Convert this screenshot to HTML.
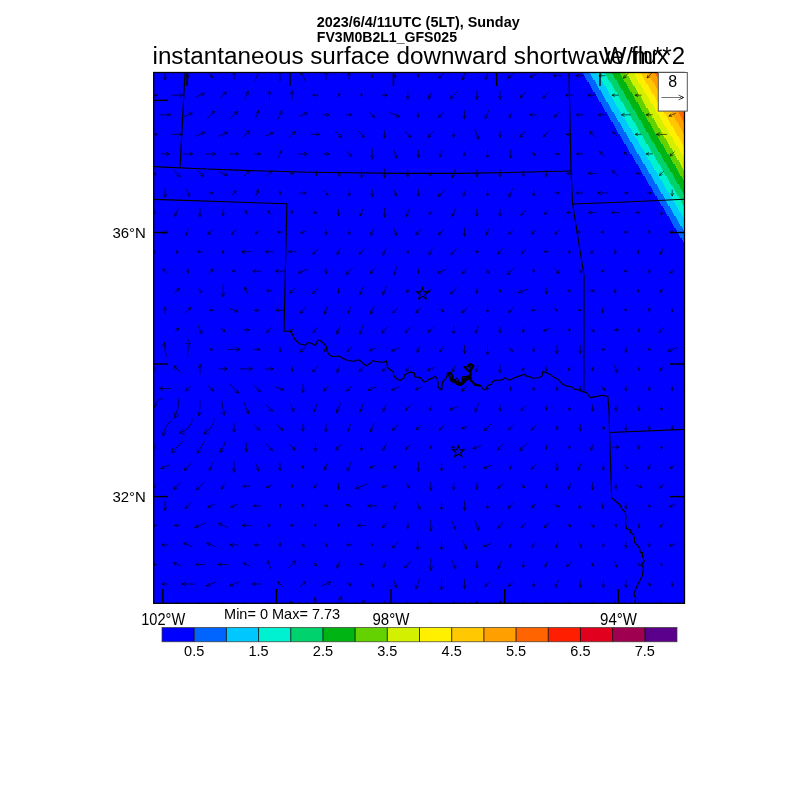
<!DOCTYPE html><html><head><meta charset="utf-8"><style>html,body{margin:0;padding:0;background:#fff;width:800px;height:800px;overflow:hidden}svg{display:block;will-change:transform}text{font-family:"Liberation Sans",sans-serif}</style></head><body>
<svg width="800" height="800" viewBox="0 0 800 800">
<defs><clipPath id="mc"><rect x="153.70" y="72.50" width="530.80" height="530.80"/></clipPath></defs>
<rect x="153.70" y="72.50" width="530.80" height="530.80" fill="#0000ff"/>
<g clip-path="url(#mc)" shape-rendering="crispEdges">
<polygon points="1000,0 539.19,0 582.70,72.00 582.70,74.00 583.89,74.00 583.89,76.00 585.08,76.00 585.08,78.00 586.28,78.00 586.28,80.00 587.47,80.00 587.47,82.00 588.66,82.00 588.66,84.00 589.85,84.00 589.85,86.00 591.04,86.00 591.04,88.00 592.24,88.00 592.24,90.00 593.43,90.00 593.43,92.00 594.62,92.00 594.62,94.00 595.81,94.00 595.81,96.00 597.00,96.00 597.00,98.00 598.20,98.00 598.20,100.00 599.39,100.00 599.39,102.00 600.58,102.00 600.58,104.00 601.77,104.00 601.77,106.00 602.96,106.00 602.96,108.00 604.16,108.00 604.16,110.00 605.35,110.00 605.35,112.00 606.54,112.00 606.54,114.00 607.73,114.00 607.73,116.00 608.92,116.00 608.92,118.00 610.12,118.00 610.12,120.00 611.31,120.00 611.31,122.00 612.50,122.00 612.50,124.00 613.69,124.00 613.69,126.00 614.88,126.00 614.88,128.00 616.08,128.00 616.08,130.00 617.27,130.00 617.27,132.00 618.46,132.00 618.46,134.00 619.65,134.00 619.65,136.00 620.84,136.00 620.84,138.00 622.04,138.00 622.04,140.00 623.23,140.00 623.23,142.00 624.42,142.00 624.42,144.00 625.61,144.00 625.61,146.00 626.80,146.00 626.80,148.00 628.00,148.00 628.00,150.00 629.19,150.00 629.19,152.00 630.38,152.00 630.38,154.00 631.57,154.00 631.57,156.00 632.76,156.00 632.76,158.00 633.96,158.00 633.96,160.00 635.15,160.00 635.15,162.00 636.34,162.00 636.34,164.00 637.53,164.00 637.53,166.00 638.72,166.00 638.72,168.00 639.92,168.00 639.92,170.00 641.11,170.00 641.11,172.00 642.30,172.00 642.30,174.00 643.49,174.00 643.49,176.00 644.68,176.00 644.68,178.00 645.88,178.00 645.88,180.00 647.07,180.00 647.07,182.00 648.26,182.00 648.26,184.00 649.45,184.00 649.45,186.00 650.64,186.00 650.64,188.00 651.84,188.00 651.84,190.00 653.03,190.00 653.03,192.00 654.22,192.00 654.22,194.00 655.41,194.00 655.41,196.00 656.60,196.00 656.60,198.00 657.80,198.00 657.80,200.00 658.99,200.00 658.99,202.00 660.18,202.00 660.18,204.00 661.37,204.00 661.37,206.00 662.56,206.00 662.56,208.00 663.76,208.00 663.76,210.00 664.95,210.00 664.95,212.00 666.14,212.00 666.14,214.00 667.33,214.00 667.33,216.00 668.52,216.00 668.52,218.00 669.72,218.00 669.72,220.00 670.91,220.00 670.91,222.00 672.10,222.00 672.10,224.00 673.29,224.00 673.29,226.00 674.48,226.00 674.48,228.00 675.68,228.00 675.68,230.00 676.87,230.00 676.87,232.00 678.06,232.00 678.06,234.00 679.25,234.00 679.25,236.00 680.44,236.00 680.44,238.00 681.64,238.00 681.64,240.00 682.83,240.00 682.83,242.00 684.02,242.00 684.02,244.00 685.21,244.00 685.21,246.00 686.40,246.00 686.40,248.00 687.60,248.00 687.60,250.00 688.79,250.00 688.79,252.00 689.98,252.00 689.98,254.00 691.17,254.00 691.17,256.00 692.36,256.00 692.36,258.00 693.56,258.00 693.56,260.00 1015.99,800 1000,800" fill="#0064ff"/>
<polygon points="1000,0 546.29,0 589.80,72.00 589.80,74.00 590.99,74.00 590.99,76.00 592.18,76.00 592.18,78.00 593.38,78.00 593.38,80.00 594.57,80.00 594.57,82.00 595.76,82.00 595.76,84.00 596.95,84.00 596.95,86.00 598.14,86.00 598.14,88.00 599.34,88.00 599.34,90.00 600.53,90.00 600.53,92.00 601.72,92.00 601.72,94.00 602.91,94.00 602.91,96.00 604.10,96.00 604.10,98.00 605.30,98.00 605.30,100.00 606.49,100.00 606.49,102.00 607.68,102.00 607.68,104.00 608.87,104.00 608.87,106.00 610.06,106.00 610.06,108.00 611.26,108.00 611.26,110.00 612.45,110.00 612.45,112.00 613.64,112.00 613.64,114.00 614.83,114.00 614.83,116.00 616.02,116.00 616.02,118.00 617.22,118.00 617.22,120.00 618.41,120.00 618.41,122.00 619.60,122.00 619.60,124.00 620.79,124.00 620.79,126.00 621.98,126.00 621.98,128.00 623.18,128.00 623.18,130.00 624.37,130.00 624.37,132.00 625.56,132.00 625.56,134.00 626.75,134.00 626.75,136.00 627.94,136.00 627.94,138.00 629.14,138.00 629.14,140.00 630.33,140.00 630.33,142.00 631.52,142.00 631.52,144.00 632.71,144.00 632.71,146.00 633.90,146.00 633.90,148.00 635.10,148.00 635.10,150.00 636.29,150.00 636.29,152.00 637.48,152.00 637.48,154.00 638.67,154.00 638.67,156.00 639.86,156.00 639.86,158.00 641.06,158.00 641.06,160.00 642.25,160.00 642.25,162.00 643.44,162.00 643.44,164.00 644.63,164.00 644.63,166.00 645.82,166.00 645.82,168.00 647.02,168.00 647.02,170.00 648.21,170.00 648.21,172.00 649.40,172.00 649.40,174.00 650.59,174.00 650.59,176.00 651.78,176.00 651.78,178.00 652.98,178.00 652.98,180.00 654.17,180.00 654.17,182.00 655.36,182.00 655.36,184.00 656.55,184.00 656.55,186.00 657.74,186.00 657.74,188.00 658.94,188.00 658.94,190.00 660.13,190.00 660.13,192.00 661.32,192.00 661.32,194.00 662.51,194.00 662.51,196.00 663.70,196.00 663.70,198.00 664.90,198.00 664.90,200.00 666.09,200.00 666.09,202.00 667.28,202.00 667.28,204.00 668.47,204.00 668.47,206.00 669.66,206.00 669.66,208.00 670.86,208.00 670.86,210.00 672.05,210.00 672.05,212.00 673.24,212.00 673.24,214.00 674.43,214.00 674.43,216.00 675.62,216.00 675.62,218.00 676.82,218.00 676.82,220.00 678.01,220.00 678.01,222.00 679.20,222.00 679.20,224.00 680.39,224.00 680.39,226.00 681.58,226.00 681.58,228.00 682.78,228.00 682.78,230.00 683.97,230.00 683.97,232.00 685.16,232.00 685.16,234.00 686.35,234.00 686.35,236.00 687.54,236.00 687.54,238.00 688.74,238.00 688.74,240.00 689.93,240.00 689.93,242.00 691.12,242.00 691.12,244.00 692.31,244.00 692.31,246.00 693.50,246.00 693.50,248.00 694.70,248.00 694.70,250.00 695.89,250.00 695.89,252.00 697.08,252.00 697.08,254.00 698.27,254.00 698.27,256.00 699.46,256.00 699.46,258.00 700.66,258.00 700.66,260.00 1023.09,800 1000,800" fill="#00c8ff"/>
<polygon points="1000,0 553.69,0 597.20,72.00 597.20,74.00 598.39,74.00 598.39,76.00 599.58,76.00 599.58,78.00 600.78,78.00 600.78,80.00 601.97,80.00 601.97,82.00 603.16,82.00 603.16,84.00 604.35,84.00 604.35,86.00 605.54,86.00 605.54,88.00 606.74,88.00 606.74,90.00 607.93,90.00 607.93,92.00 609.12,92.00 609.12,94.00 610.31,94.00 610.31,96.00 611.50,96.00 611.50,98.00 612.70,98.00 612.70,100.00 613.89,100.00 613.89,102.00 615.08,102.00 615.08,104.00 616.27,104.00 616.27,106.00 617.46,106.00 617.46,108.00 618.66,108.00 618.66,110.00 619.85,110.00 619.85,112.00 621.04,112.00 621.04,114.00 622.23,114.00 622.23,116.00 623.42,116.00 623.42,118.00 624.62,118.00 624.62,120.00 625.81,120.00 625.81,122.00 627.00,122.00 627.00,124.00 628.19,124.00 628.19,126.00 629.38,126.00 629.38,128.00 630.58,128.00 630.58,130.00 631.77,130.00 631.77,132.00 632.96,132.00 632.96,134.00 634.15,134.00 634.15,136.00 635.34,136.00 635.34,138.00 636.54,138.00 636.54,140.00 637.73,140.00 637.73,142.00 638.92,142.00 638.92,144.00 640.11,144.00 640.11,146.00 641.30,146.00 641.30,148.00 642.50,148.00 642.50,150.00 643.69,150.00 643.69,152.00 644.88,152.00 644.88,154.00 646.07,154.00 646.07,156.00 647.26,156.00 647.26,158.00 648.46,158.00 648.46,160.00 649.65,160.00 649.65,162.00 650.84,162.00 650.84,164.00 652.03,164.00 652.03,166.00 653.22,166.00 653.22,168.00 654.42,168.00 654.42,170.00 655.61,170.00 655.61,172.00 656.80,172.00 656.80,174.00 657.99,174.00 657.99,176.00 659.18,176.00 659.18,178.00 660.38,178.00 660.38,180.00 661.57,180.00 661.57,182.00 662.76,182.00 662.76,184.00 663.95,184.00 663.95,186.00 665.14,186.00 665.14,188.00 666.34,188.00 666.34,190.00 667.53,190.00 667.53,192.00 668.72,192.00 668.72,194.00 669.91,194.00 669.91,196.00 671.10,196.00 671.10,198.00 672.30,198.00 672.30,200.00 673.49,200.00 673.49,202.00 674.68,202.00 674.68,204.00 675.87,204.00 675.87,206.00 677.06,206.00 677.06,208.00 678.26,208.00 678.26,210.00 679.45,210.00 679.45,212.00 680.64,212.00 680.64,214.00 681.83,214.00 681.83,216.00 683.02,216.00 683.02,218.00 684.22,218.00 684.22,220.00 685.41,220.00 685.41,222.00 686.60,222.00 686.60,224.00 687.79,224.00 687.79,226.00 688.98,226.00 688.98,228.00 690.18,228.00 690.18,230.00 691.37,230.00 691.37,232.00 692.56,232.00 692.56,234.00 693.75,234.00 693.75,236.00 694.94,236.00 694.94,238.00 696.14,238.00 696.14,240.00 697.33,240.00 697.33,242.00 698.52,242.00 698.52,244.00 699.71,244.00 699.71,246.00 700.90,246.00 700.90,248.00 702.10,248.00 702.10,250.00 703.29,250.00 703.29,252.00 704.48,252.00 704.48,254.00 705.67,254.00 705.67,256.00 706.86,256.00 706.86,258.00 708.06,258.00 708.06,260.00 1030.49,800 1000,800" fill="#00f0d2"/>
<polygon points="1000,0 561.19,0 604.70,72.00 604.70,74.00 605.89,74.00 605.89,76.00 607.08,76.00 607.08,78.00 608.28,78.00 608.28,80.00 609.47,80.00 609.47,82.00 610.66,82.00 610.66,84.00 611.85,84.00 611.85,86.00 613.04,86.00 613.04,88.00 614.24,88.00 614.24,90.00 615.43,90.00 615.43,92.00 616.62,92.00 616.62,94.00 617.81,94.00 617.81,96.00 619.00,96.00 619.00,98.00 620.20,98.00 620.20,100.00 621.39,100.00 621.39,102.00 622.58,102.00 622.58,104.00 623.77,104.00 623.77,106.00 624.96,106.00 624.96,108.00 626.16,108.00 626.16,110.00 627.35,110.00 627.35,112.00 628.54,112.00 628.54,114.00 629.73,114.00 629.73,116.00 630.92,116.00 630.92,118.00 632.12,118.00 632.12,120.00 633.31,120.00 633.31,122.00 634.50,122.00 634.50,124.00 635.69,124.00 635.69,126.00 636.88,126.00 636.88,128.00 638.08,128.00 638.08,130.00 639.27,130.00 639.27,132.00 640.46,132.00 640.46,134.00 641.65,134.00 641.65,136.00 642.84,136.00 642.84,138.00 644.04,138.00 644.04,140.00 645.23,140.00 645.23,142.00 646.42,142.00 646.42,144.00 647.61,144.00 647.61,146.00 648.80,146.00 648.80,148.00 650.00,148.00 650.00,150.00 651.19,150.00 651.19,152.00 652.38,152.00 652.38,154.00 653.57,154.00 653.57,156.00 654.76,156.00 654.76,158.00 655.96,158.00 655.96,160.00 657.15,160.00 657.15,162.00 658.34,162.00 658.34,164.00 659.53,164.00 659.53,166.00 660.72,166.00 660.72,168.00 661.92,168.00 661.92,170.00 663.11,170.00 663.11,172.00 664.30,172.00 664.30,174.00 665.49,174.00 665.49,176.00 666.68,176.00 666.68,178.00 667.88,178.00 667.88,180.00 669.07,180.00 669.07,182.00 670.26,182.00 670.26,184.00 671.45,184.00 671.45,186.00 672.64,186.00 672.64,188.00 673.84,188.00 673.84,190.00 675.03,190.00 675.03,192.00 676.22,192.00 676.22,194.00 677.41,194.00 677.41,196.00 678.60,196.00 678.60,198.00 679.80,198.00 679.80,200.00 680.99,200.00 680.99,202.00 682.18,202.00 682.18,204.00 683.37,204.00 683.37,206.00 684.56,206.00 684.56,208.00 685.76,208.00 685.76,210.00 686.95,210.00 686.95,212.00 688.14,212.00 688.14,214.00 689.33,214.00 689.33,216.00 690.52,216.00 690.52,218.00 691.72,218.00 691.72,220.00 692.91,220.00 692.91,222.00 694.10,222.00 694.10,224.00 695.29,224.00 695.29,226.00 696.48,226.00 696.48,228.00 697.68,228.00 697.68,230.00 698.87,230.00 698.87,232.00 700.06,232.00 700.06,234.00 701.25,234.00 701.25,236.00 702.44,236.00 702.44,238.00 703.64,238.00 703.64,240.00 704.83,240.00 704.83,242.00 706.02,242.00 706.02,244.00 707.21,244.00 707.21,246.00 708.40,246.00 708.40,248.00 709.60,248.00 709.60,250.00 710.79,250.00 710.79,252.00 711.98,252.00 711.98,254.00 713.17,254.00 713.17,256.00 714.36,256.00 714.36,258.00 715.56,258.00 715.56,260.00 1037.99,800 1000,800" fill="#00d26e"/>
<polygon points="1000,0 568.39,0 611.90,72.00 611.90,74.00 613.09,74.00 613.09,76.00 614.28,76.00 614.28,78.00 615.48,78.00 615.48,80.00 616.67,80.00 616.67,82.00 617.86,82.00 617.86,84.00 619.05,84.00 619.05,86.00 620.24,86.00 620.24,88.00 621.44,88.00 621.44,90.00 622.63,90.00 622.63,92.00 623.82,92.00 623.82,94.00 625.01,94.00 625.01,96.00 626.20,96.00 626.20,98.00 627.40,98.00 627.40,100.00 628.59,100.00 628.59,102.00 629.78,102.00 629.78,104.00 630.97,104.00 630.97,106.00 632.16,106.00 632.16,108.00 633.36,108.00 633.36,110.00 634.55,110.00 634.55,112.00 635.74,112.00 635.74,114.00 636.93,114.00 636.93,116.00 638.12,116.00 638.12,118.00 639.32,118.00 639.32,120.00 640.51,120.00 640.51,122.00 641.70,122.00 641.70,124.00 642.89,124.00 642.89,126.00 644.08,126.00 644.08,128.00 645.28,128.00 645.28,130.00 646.47,130.00 646.47,132.00 647.66,132.00 647.66,134.00 648.85,134.00 648.85,136.00 650.04,136.00 650.04,138.00 651.24,138.00 651.24,140.00 652.43,140.00 652.43,142.00 653.62,142.00 653.62,144.00 654.81,144.00 654.81,146.00 656.00,146.00 656.00,148.00 657.20,148.00 657.20,150.00 658.39,150.00 658.39,152.00 659.58,152.00 659.58,154.00 660.77,154.00 660.77,156.00 661.96,156.00 661.96,158.00 663.16,158.00 663.16,160.00 664.35,160.00 664.35,162.00 665.54,162.00 665.54,164.00 666.73,164.00 666.73,166.00 667.92,166.00 667.92,168.00 669.12,168.00 669.12,170.00 670.31,170.00 670.31,172.00 671.50,172.00 671.50,174.00 672.69,174.00 672.69,176.00 673.88,176.00 673.88,178.00 675.08,178.00 675.08,180.00 676.27,180.00 676.27,182.00 677.46,182.00 677.46,184.00 678.65,184.00 678.65,186.00 679.84,186.00 679.84,188.00 681.04,188.00 681.04,190.00 682.23,190.00 682.23,192.00 683.42,192.00 683.42,194.00 684.61,194.00 684.61,196.00 685.80,196.00 685.80,198.00 687.00,198.00 687.00,200.00 688.19,200.00 688.19,202.00 689.38,202.00 689.38,204.00 690.57,204.00 690.57,206.00 691.76,206.00 691.76,208.00 692.96,208.00 692.96,210.00 694.15,210.00 694.15,212.00 695.34,212.00 695.34,214.00 696.53,214.00 696.53,216.00 697.72,216.00 697.72,218.00 698.92,218.00 698.92,220.00 700.11,220.00 700.11,222.00 701.30,222.00 701.30,224.00 702.49,224.00 702.49,226.00 703.68,226.00 703.68,228.00 704.88,228.00 704.88,230.00 706.07,230.00 706.07,232.00 707.26,232.00 707.26,234.00 708.45,234.00 708.45,236.00 709.64,236.00 709.64,238.00 710.84,238.00 710.84,240.00 712.03,240.00 712.03,242.00 713.22,242.00 713.22,244.00 714.41,244.00 714.41,246.00 715.60,246.00 715.60,248.00 716.80,248.00 716.80,250.00 717.99,250.00 717.99,252.00 719.18,252.00 719.18,254.00 720.37,254.00 720.37,256.00 721.56,256.00 721.56,258.00 722.76,258.00 722.76,260.00 1045.19,800 1000,800" fill="#00b414"/>
<polygon points="1000,0 576.19,0 619.70,72.00 619.70,74.00 620.89,74.00 620.89,76.00 622.08,76.00 622.08,78.00 623.28,78.00 623.28,80.00 624.47,80.00 624.47,82.00 625.66,82.00 625.66,84.00 626.85,84.00 626.85,86.00 628.04,86.00 628.04,88.00 629.24,88.00 629.24,90.00 630.43,90.00 630.43,92.00 631.62,92.00 631.62,94.00 632.81,94.00 632.81,96.00 634.00,96.00 634.00,98.00 635.20,98.00 635.20,100.00 636.39,100.00 636.39,102.00 637.58,102.00 637.58,104.00 638.77,104.00 638.77,106.00 639.96,106.00 639.96,108.00 641.16,108.00 641.16,110.00 642.35,110.00 642.35,112.00 643.54,112.00 643.54,114.00 644.73,114.00 644.73,116.00 645.92,116.00 645.92,118.00 647.12,118.00 647.12,120.00 648.31,120.00 648.31,122.00 649.50,122.00 649.50,124.00 650.69,124.00 650.69,126.00 651.88,126.00 651.88,128.00 653.08,128.00 653.08,130.00 654.27,130.00 654.27,132.00 655.46,132.00 655.46,134.00 656.65,134.00 656.65,136.00 657.84,136.00 657.84,138.00 659.04,138.00 659.04,140.00 660.23,140.00 660.23,142.00 661.42,142.00 661.42,144.00 662.61,144.00 662.61,146.00 663.80,146.00 663.80,148.00 665.00,148.00 665.00,150.00 666.19,150.00 666.19,152.00 667.38,152.00 667.38,154.00 668.57,154.00 668.57,156.00 669.76,156.00 669.76,158.00 670.96,158.00 670.96,160.00 672.15,160.00 672.15,162.00 673.34,162.00 673.34,164.00 674.53,164.00 674.53,166.00 675.72,166.00 675.72,168.00 676.92,168.00 676.92,170.00 678.11,170.00 678.11,172.00 679.30,172.00 679.30,174.00 680.49,174.00 680.49,176.00 681.68,176.00 681.68,178.00 682.88,178.00 682.88,180.00 684.07,180.00 684.07,182.00 685.26,182.00 685.26,184.00 686.45,184.00 686.45,186.00 687.64,186.00 687.64,188.00 688.84,188.00 688.84,190.00 690.03,190.00 690.03,192.00 691.22,192.00 691.22,194.00 692.41,194.00 692.41,196.00 693.60,196.00 693.60,198.00 694.80,198.00 694.80,200.00 695.99,200.00 695.99,202.00 697.18,202.00 697.18,204.00 698.37,204.00 698.37,206.00 699.56,206.00 699.56,208.00 700.76,208.00 700.76,210.00 701.95,210.00 701.95,212.00 703.14,212.00 703.14,214.00 704.33,214.00 704.33,216.00 705.52,216.00 705.52,218.00 706.72,218.00 706.72,220.00 707.91,220.00 707.91,222.00 709.10,222.00 709.10,224.00 710.29,224.00 710.29,226.00 711.48,226.00 711.48,228.00 712.68,228.00 712.68,230.00 713.87,230.00 713.87,232.00 715.06,232.00 715.06,234.00 716.25,234.00 716.25,236.00 717.44,236.00 717.44,238.00 718.64,238.00 718.64,240.00 719.83,240.00 719.83,242.00 721.02,242.00 721.02,244.00 722.21,244.00 722.21,246.00 723.40,246.00 723.40,248.00 724.60,248.00 724.60,250.00 725.79,250.00 725.79,252.00 726.98,252.00 726.98,254.00 728.17,254.00 728.17,256.00 729.36,256.00 729.36,258.00 730.56,258.00 730.56,260.00 1052.99,800 1000,800" fill="#64d200"/>
<polygon points="1000,0 582.69,0 626.20,72.00 626.20,74.00 627.39,74.00 627.39,76.00 628.58,76.00 628.58,78.00 629.78,78.00 629.78,80.00 630.97,80.00 630.97,82.00 632.16,82.00 632.16,84.00 633.35,84.00 633.35,86.00 634.54,86.00 634.54,88.00 635.74,88.00 635.74,90.00 636.93,90.00 636.93,92.00 638.12,92.00 638.12,94.00 639.31,94.00 639.31,96.00 640.50,96.00 640.50,98.00 641.70,98.00 641.70,100.00 642.89,100.00 642.89,102.00 644.08,102.00 644.08,104.00 645.27,104.00 645.27,106.00 646.46,106.00 646.46,108.00 647.66,108.00 647.66,110.00 648.85,110.00 648.85,112.00 650.04,112.00 650.04,114.00 651.23,114.00 651.23,116.00 652.42,116.00 652.42,118.00 653.62,118.00 653.62,120.00 654.81,120.00 654.81,122.00 656.00,122.00 656.00,124.00 657.19,124.00 657.19,126.00 658.38,126.00 658.38,128.00 659.58,128.00 659.58,130.00 660.77,130.00 660.77,132.00 661.96,132.00 661.96,134.00 663.15,134.00 663.15,136.00 664.34,136.00 664.34,138.00 665.54,138.00 665.54,140.00 666.73,140.00 666.73,142.00 667.92,142.00 667.92,144.00 669.11,144.00 669.11,146.00 670.30,146.00 670.30,148.00 671.50,148.00 671.50,150.00 672.69,150.00 672.69,152.00 673.88,152.00 673.88,154.00 675.07,154.00 675.07,156.00 676.26,156.00 676.26,158.00 677.46,158.00 677.46,160.00 678.65,160.00 678.65,162.00 679.84,162.00 679.84,164.00 681.03,164.00 681.03,166.00 682.22,166.00 682.22,168.00 683.42,168.00 683.42,170.00 684.61,170.00 684.61,172.00 685.80,172.00 685.80,174.00 686.99,174.00 686.99,176.00 688.18,176.00 688.18,178.00 689.38,178.00 689.38,180.00 690.57,180.00 690.57,182.00 691.76,182.00 691.76,184.00 692.95,184.00 692.95,186.00 694.14,186.00 694.14,188.00 695.34,188.00 695.34,190.00 696.53,190.00 696.53,192.00 697.72,192.00 697.72,194.00 698.91,194.00 698.91,196.00 700.10,196.00 700.10,198.00 701.30,198.00 701.30,200.00 702.49,200.00 702.49,202.00 703.68,202.00 703.68,204.00 704.87,204.00 704.87,206.00 706.06,206.00 706.06,208.00 707.26,208.00 707.26,210.00 708.45,210.00 708.45,212.00 709.64,212.00 709.64,214.00 710.83,214.00 710.83,216.00 712.02,216.00 712.02,218.00 713.22,218.00 713.22,220.00 714.41,220.00 714.41,222.00 715.60,222.00 715.60,224.00 716.79,224.00 716.79,226.00 717.98,226.00 717.98,228.00 719.18,228.00 719.18,230.00 720.37,230.00 720.37,232.00 721.56,232.00 721.56,234.00 722.75,234.00 722.75,236.00 723.94,236.00 723.94,238.00 725.14,238.00 725.14,240.00 726.33,240.00 726.33,242.00 727.52,242.00 727.52,244.00 728.71,244.00 728.71,246.00 729.90,246.00 729.90,248.00 731.10,248.00 731.10,250.00 732.29,250.00 732.29,252.00 733.48,252.00 733.48,254.00 734.67,254.00 734.67,256.00 735.86,256.00 735.86,258.00 737.06,258.00 737.06,260.00 1059.49,800 1000,800" fill="#d2f000"/>
<polygon points="1000,0 589.99,0 633.50,72.00 633.50,74.00 634.69,74.00 634.69,76.00 635.88,76.00 635.88,78.00 637.08,78.00 637.08,80.00 638.27,80.00 638.27,82.00 639.46,82.00 639.46,84.00 640.65,84.00 640.65,86.00 641.84,86.00 641.84,88.00 643.04,88.00 643.04,90.00 644.23,90.00 644.23,92.00 645.42,92.00 645.42,94.00 646.61,94.00 646.61,96.00 647.80,96.00 647.80,98.00 649.00,98.00 649.00,100.00 650.19,100.00 650.19,102.00 651.38,102.00 651.38,104.00 652.57,104.00 652.57,106.00 653.76,106.00 653.76,108.00 654.96,108.00 654.96,110.00 656.15,110.00 656.15,112.00 657.34,112.00 657.34,114.00 658.53,114.00 658.53,116.00 659.72,116.00 659.72,118.00 660.92,118.00 660.92,120.00 662.11,120.00 662.11,122.00 663.30,122.00 663.30,124.00 664.49,124.00 664.49,126.00 665.68,126.00 665.68,128.00 666.88,128.00 666.88,130.00 668.07,130.00 668.07,132.00 669.26,132.00 669.26,134.00 670.45,134.00 670.45,136.00 671.64,136.00 671.64,138.00 672.84,138.00 672.84,140.00 674.03,140.00 674.03,142.00 675.22,142.00 675.22,144.00 676.41,144.00 676.41,146.00 677.60,146.00 677.60,148.00 678.80,148.00 678.80,150.00 679.99,150.00 679.99,152.00 681.18,152.00 681.18,154.00 682.37,154.00 682.37,156.00 683.56,156.00 683.56,158.00 684.76,158.00 684.76,160.00 685.95,160.00 685.95,162.00 687.14,162.00 687.14,164.00 688.33,164.00 688.33,166.00 689.52,166.00 689.52,168.00 690.72,168.00 690.72,170.00 691.91,170.00 691.91,172.00 693.10,172.00 693.10,174.00 694.29,174.00 694.29,176.00 695.48,176.00 695.48,178.00 696.68,178.00 696.68,180.00 697.87,180.00 697.87,182.00 699.06,182.00 699.06,184.00 700.25,184.00 700.25,186.00 701.44,186.00 701.44,188.00 702.64,188.00 702.64,190.00 703.83,190.00 703.83,192.00 705.02,192.00 705.02,194.00 706.21,194.00 706.21,196.00 707.40,196.00 707.40,198.00 708.60,198.00 708.60,200.00 709.79,200.00 709.79,202.00 710.98,202.00 710.98,204.00 712.17,204.00 712.17,206.00 713.36,206.00 713.36,208.00 714.56,208.00 714.56,210.00 715.75,210.00 715.75,212.00 716.94,212.00 716.94,214.00 718.13,214.00 718.13,216.00 719.32,216.00 719.32,218.00 720.52,218.00 720.52,220.00 721.71,220.00 721.71,222.00 722.90,222.00 722.90,224.00 724.09,224.00 724.09,226.00 725.28,226.00 725.28,228.00 726.48,228.00 726.48,230.00 727.67,230.00 727.67,232.00 728.86,232.00 728.86,234.00 730.05,234.00 730.05,236.00 731.24,236.00 731.24,238.00 732.44,238.00 732.44,240.00 733.63,240.00 733.63,242.00 734.82,242.00 734.82,244.00 736.01,244.00 736.01,246.00 737.20,246.00 737.20,248.00 738.40,248.00 738.40,250.00 739.59,250.00 739.59,252.00 740.78,252.00 740.78,254.00 741.97,254.00 741.97,256.00 743.16,256.00 743.16,258.00 744.36,258.00 744.36,260.00 1066.79,800 1000,800" fill="#fff000"/>
<polygon points="1000,0 596.99,0 640.50,72.00 640.50,74.00 641.69,74.00 641.69,76.00 642.88,76.00 642.88,78.00 644.08,78.00 644.08,80.00 645.27,80.00 645.27,82.00 646.46,82.00 646.46,84.00 647.65,84.00 647.65,86.00 648.84,86.00 648.84,88.00 650.04,88.00 650.04,90.00 651.23,90.00 651.23,92.00 652.42,92.00 652.42,94.00 653.61,94.00 653.61,96.00 654.80,96.00 654.80,98.00 656.00,98.00 656.00,100.00 657.19,100.00 657.19,102.00 658.38,102.00 658.38,104.00 659.57,104.00 659.57,106.00 660.76,106.00 660.76,108.00 661.96,108.00 661.96,110.00 663.15,110.00 663.15,112.00 664.34,112.00 664.34,114.00 665.53,114.00 665.53,116.00 666.72,116.00 666.72,118.00 667.92,118.00 667.92,120.00 669.11,120.00 669.11,122.00 670.30,122.00 670.30,124.00 671.49,124.00 671.49,126.00 672.68,126.00 672.68,128.00 673.88,128.00 673.88,130.00 675.07,130.00 675.07,132.00 676.26,132.00 676.26,134.00 677.45,134.00 677.45,136.00 678.64,136.00 678.64,138.00 679.84,138.00 679.84,140.00 681.03,140.00 681.03,142.00 682.22,142.00 682.22,144.00 683.41,144.00 683.41,146.00 684.60,146.00 684.60,148.00 685.80,148.00 685.80,150.00 686.99,150.00 686.99,152.00 688.18,152.00 688.18,154.00 689.37,154.00 689.37,156.00 690.56,156.00 690.56,158.00 691.76,158.00 691.76,160.00 692.95,160.00 692.95,162.00 694.14,162.00 694.14,164.00 695.33,164.00 695.33,166.00 696.52,166.00 696.52,168.00 697.72,168.00 697.72,170.00 698.91,170.00 698.91,172.00 700.10,172.00 700.10,174.00 701.29,174.00 701.29,176.00 702.48,176.00 702.48,178.00 703.68,178.00 703.68,180.00 704.87,180.00 704.87,182.00 706.06,182.00 706.06,184.00 707.25,184.00 707.25,186.00 708.44,186.00 708.44,188.00 709.64,188.00 709.64,190.00 710.83,190.00 710.83,192.00 712.02,192.00 712.02,194.00 713.21,194.00 713.21,196.00 714.40,196.00 714.40,198.00 715.60,198.00 715.60,200.00 716.79,200.00 716.79,202.00 717.98,202.00 717.98,204.00 719.17,204.00 719.17,206.00 720.36,206.00 720.36,208.00 721.56,208.00 721.56,210.00 722.75,210.00 722.75,212.00 723.94,212.00 723.94,214.00 725.13,214.00 725.13,216.00 726.32,216.00 726.32,218.00 727.52,218.00 727.52,220.00 728.71,220.00 728.71,222.00 729.90,222.00 729.90,224.00 731.09,224.00 731.09,226.00 732.28,226.00 732.28,228.00 733.48,228.00 733.48,230.00 734.67,230.00 734.67,232.00 735.86,232.00 735.86,234.00 737.05,234.00 737.05,236.00 738.24,236.00 738.24,238.00 739.44,238.00 739.44,240.00 740.63,240.00 740.63,242.00 741.82,242.00 741.82,244.00 743.01,244.00 743.01,246.00 744.20,246.00 744.20,248.00 745.40,248.00 745.40,250.00 746.59,250.00 746.59,252.00 747.78,252.00 747.78,254.00 748.97,254.00 748.97,256.00 750.16,256.00 750.16,258.00 751.36,258.00 751.36,260.00 1073.79,800 1000,800" fill="#ffc800"/>
<polygon points="1000,0 604.19,0 647.70,72.00 647.70,74.00 648.89,74.00 648.89,76.00 650.08,76.00 650.08,78.00 651.28,78.00 651.28,80.00 652.47,80.00 652.47,82.00 653.66,82.00 653.66,84.00 654.85,84.00 654.85,86.00 656.04,86.00 656.04,88.00 657.24,88.00 657.24,90.00 658.43,90.00 658.43,92.00 659.62,92.00 659.62,94.00 660.81,94.00 660.81,96.00 662.00,96.00 662.00,98.00 663.20,98.00 663.20,100.00 664.39,100.00 664.39,102.00 665.58,102.00 665.58,104.00 666.77,104.00 666.77,106.00 667.96,106.00 667.96,108.00 669.16,108.00 669.16,110.00 670.35,110.00 670.35,112.00 671.54,112.00 671.54,114.00 672.73,114.00 672.73,116.00 673.92,116.00 673.92,118.00 675.12,118.00 675.12,120.00 676.31,120.00 676.31,122.00 677.50,122.00 677.50,124.00 678.69,124.00 678.69,126.00 679.88,126.00 679.88,128.00 681.08,128.00 681.08,130.00 682.27,130.00 682.27,132.00 683.46,132.00 683.46,134.00 684.65,134.00 684.65,136.00 685.84,136.00 685.84,138.00 687.04,138.00 687.04,140.00 688.23,140.00 688.23,142.00 689.42,142.00 689.42,144.00 690.61,144.00 690.61,146.00 691.80,146.00 691.80,148.00 693.00,148.00 693.00,150.00 694.19,150.00 694.19,152.00 695.38,152.00 695.38,154.00 696.57,154.00 696.57,156.00 697.76,156.00 697.76,158.00 698.96,158.00 698.96,160.00 700.15,160.00 700.15,162.00 701.34,162.00 701.34,164.00 702.53,164.00 702.53,166.00 703.72,166.00 703.72,168.00 704.92,168.00 704.92,170.00 706.11,170.00 706.11,172.00 707.30,172.00 707.30,174.00 708.49,174.00 708.49,176.00 709.68,176.00 709.68,178.00 710.88,178.00 710.88,180.00 712.07,180.00 712.07,182.00 713.26,182.00 713.26,184.00 714.45,184.00 714.45,186.00 715.64,186.00 715.64,188.00 716.84,188.00 716.84,190.00 718.03,190.00 718.03,192.00 719.22,192.00 719.22,194.00 720.41,194.00 720.41,196.00 721.60,196.00 721.60,198.00 722.80,198.00 722.80,200.00 723.99,200.00 723.99,202.00 725.18,202.00 725.18,204.00 726.37,204.00 726.37,206.00 727.56,206.00 727.56,208.00 728.76,208.00 728.76,210.00 729.95,210.00 729.95,212.00 731.14,212.00 731.14,214.00 732.33,214.00 732.33,216.00 733.52,216.00 733.52,218.00 734.72,218.00 734.72,220.00 735.91,220.00 735.91,222.00 737.10,222.00 737.10,224.00 738.29,224.00 738.29,226.00 739.48,226.00 739.48,228.00 740.68,228.00 740.68,230.00 741.87,230.00 741.87,232.00 743.06,232.00 743.06,234.00 744.25,234.00 744.25,236.00 745.44,236.00 745.44,238.00 746.64,238.00 746.64,240.00 747.83,240.00 747.83,242.00 749.02,242.00 749.02,244.00 750.21,244.00 750.21,246.00 751.40,246.00 751.40,248.00 752.60,248.00 752.60,250.00 753.79,250.00 753.79,252.00 754.98,252.00 754.98,254.00 756.17,254.00 756.17,256.00 757.36,256.00 757.36,258.00 758.56,258.00 758.56,260.00 1080.99,800 1000,800" fill="#ffa000"/>
<polygon points="1000,0 611.19,0 654.70,72.00 654.70,74.00 655.89,74.00 655.89,76.00 657.08,76.00 657.08,78.00 658.28,78.00 658.28,80.00 659.47,80.00 659.47,82.00 660.66,82.00 660.66,84.00 661.85,84.00 661.85,86.00 663.04,86.00 663.04,88.00 664.24,88.00 664.24,90.00 665.43,90.00 665.43,92.00 666.62,92.00 666.62,94.00 667.81,94.00 667.81,96.00 669.00,96.00 669.00,98.00 670.20,98.00 670.20,100.00 671.39,100.00 671.39,102.00 672.58,102.00 672.58,104.00 673.77,104.00 673.77,106.00 674.96,106.00 674.96,108.00 676.16,108.00 676.16,110.00 677.35,110.00 677.35,112.00 678.54,112.00 678.54,114.00 679.73,114.00 679.73,116.00 680.92,116.00 680.92,118.00 682.12,118.00 682.12,120.00 683.31,120.00 683.31,122.00 684.50,122.00 684.50,124.00 685.69,124.00 685.69,126.00 686.88,126.00 686.88,128.00 688.08,128.00 688.08,130.00 689.27,130.00 689.27,132.00 690.46,132.00 690.46,134.00 691.65,134.00 691.65,136.00 692.84,136.00 692.84,138.00 694.04,138.00 694.04,140.00 695.23,140.00 695.23,142.00 696.42,142.00 696.42,144.00 697.61,144.00 697.61,146.00 698.80,146.00 698.80,148.00 700.00,148.00 700.00,150.00 701.19,150.00 701.19,152.00 702.38,152.00 702.38,154.00 703.57,154.00 703.57,156.00 704.76,156.00 704.76,158.00 705.96,158.00 705.96,160.00 707.15,160.00 707.15,162.00 708.34,162.00 708.34,164.00 709.53,164.00 709.53,166.00 710.72,166.00 710.72,168.00 711.92,168.00 711.92,170.00 713.11,170.00 713.11,172.00 714.30,172.00 714.30,174.00 715.49,174.00 715.49,176.00 716.68,176.00 716.68,178.00 717.88,178.00 717.88,180.00 719.07,180.00 719.07,182.00 720.26,182.00 720.26,184.00 721.45,184.00 721.45,186.00 722.64,186.00 722.64,188.00 723.84,188.00 723.84,190.00 725.03,190.00 725.03,192.00 726.22,192.00 726.22,194.00 727.41,194.00 727.41,196.00 728.60,196.00 728.60,198.00 729.80,198.00 729.80,200.00 730.99,200.00 730.99,202.00 732.18,202.00 732.18,204.00 733.37,204.00 733.37,206.00 734.56,206.00 734.56,208.00 735.76,208.00 735.76,210.00 736.95,210.00 736.95,212.00 738.14,212.00 738.14,214.00 739.33,214.00 739.33,216.00 740.52,216.00 740.52,218.00 741.72,218.00 741.72,220.00 742.91,220.00 742.91,222.00 744.10,222.00 744.10,224.00 745.29,224.00 745.29,226.00 746.48,226.00 746.48,228.00 747.68,228.00 747.68,230.00 748.87,230.00 748.87,232.00 750.06,232.00 750.06,234.00 751.25,234.00 751.25,236.00 752.44,236.00 752.44,238.00 753.64,238.00 753.64,240.00 754.83,240.00 754.83,242.00 756.02,242.00 756.02,244.00 757.21,244.00 757.21,246.00 758.40,246.00 758.40,248.00 759.60,248.00 759.60,250.00 760.79,250.00 760.79,252.00 761.98,252.00 761.98,254.00 763.17,254.00 763.17,256.00 764.36,256.00 764.36,258.00 765.56,258.00 765.56,260.00 1087.99,800 1000,800" fill="#ff6400"/>
</g>
<g clip-path="url(#mc)" stroke="#000" stroke-width="0.62" fill="none" stroke-linecap="round" stroke-linejoin="round">
<path d="M162.4 398.7Q156.0 398.5 154.5 407.2M153.3 403.6L154.5 407.2L156.8 404.2"/>
<path d="M179.2 397.8Q178.8 409.0 174.8 418.0M174.4 412.7L174.8 418.0L178.9 414.8"/>
<path d="M200.0 400.0Q200.2 408.0 199.0 415.8M197.5 411.4L199.0 415.8L201.8 412.1"/>
<path d="M222.0 401.0Q222.4 408.0 224.2 415.0M221.3 411.8L224.2 415.0L225.2 410.8"/>
<path d="M170.7 421.2Q163.9 426.4 163.5 436.0M161.5 431.7L163.5 436.0L165.9 431.9"/>
<path d="M192.3 419.0Q191.6 429.3 179.2 433.1M183.0 429.3L179.2 433.1L184.5 434.1"/>
<path d="M214.1 419.0Q213.0 428.6 203.6 433.8M206.4 429.5L203.6 433.8L208.7 433.7"/>
<path d="M204.5 441.5Q201.5 446.0 197.2 453.4M197.4 449.1L197.2 453.4L200.9 451.1"/>
<path d="M225.4 441.5Q224.0 447.5 220.2 452.2M220.9 448.4L220.2 452.2L223.8 450.7"/>
<path d="M166.6 355.9Q163.5 349.0 164.6 342.6M165.9 346.6L164.6 342.6L162.0 345.9"/>
<path d="M187.7 357.0Q187.8 342.0 190.2 343.5M186.0 343.2L190.2 343.5L188.1 339.8"/>
<path d="M165.0 71.7L165.0 79.7M163.5 77.0L165.0 79.7L166.5 77.0"/>
<path d="M188.0 73.2L188.0 78.2M186.8 76.0L188.0 78.2L189.2 76.0"/>
<path d="M209.2 73.9L212.8 77.5M210.4 76.7L212.8 77.5L212.0 75.1"/>
<path d="M234.0 79.2L234.0 72.2M235.4 74.8L234.0 72.2L232.6 74.8"/>
<path d="M254.9 80.8L259.1 70.6M259.5 74.3L259.1 70.6L256.2 73.0"/>
<path d="M280.0 81.2L280.0 70.2M281.7 73.5L280.0 70.2L278.3 73.5"/>
<path d="M305.1 80.8L300.9 70.6M303.8 73.0L300.9 70.6L300.5 74.3"/>
<path d="M326.0 79.7L326.0 71.7M327.5 74.4L326.0 71.7L324.5 74.4"/>
<path d="M349.0 78.7L349.0 72.7M350.3 75.1L349.0 72.7L347.7 75.1"/>
<path d="M372.0 73.7L372.0 77.7M370.9 75.7L372.0 77.7L373.1 75.7"/>
<path d="M395.0 73.7L395.0 77.7M393.9 75.7L395.0 77.7L396.1 75.7"/>
<path d="M418.0 77.2L418.0 74.2M419.0 76.1L418.0 74.2L417.0 76.1"/>
<path d="M443.1 73.6L438.9 77.8M439.7 75.2L438.9 77.8L441.5 77.0"/>
<path d="M465.7 71.5L462.3 79.9M462.0 76.6L462.3 79.9L464.8 77.8"/>
<path d="M488.7 71.5L485.3 79.9M485.0 76.6L485.3 79.9L487.8 77.8"/>
<path d="M513.2 73.2L508.2 78.2M509.1 75.4L508.2 78.2L511.0 77.3"/>
<path d="M536.2 74.4L529.8 77.0M531.6 74.8L529.8 77.0L532.7 77.3"/>
<path d="M561.0 75.7L553.0 75.7M555.7 74.2L553.0 75.7L555.7 77.2"/>
<path d="M583.1 75.7L576.1 75.7M578.7 74.3L576.1 75.7L578.7 77.1"/>
<path d="M605.0 75.7L599.0 75.7M601.4 74.4L599.0 75.7L601.4 77.0"/>
<path d="M628.4 73.2L623.4 78.2M624.3 75.4L623.4 78.2L626.2 77.3"/>
<path d="M651.3 73.6L647.1 77.8M647.9 75.2L647.1 77.8L649.7 77.0"/>
<path d="M151.5 95.2L157.5 95.2M155.1 96.5L157.5 95.2L155.1 94.0"/>
<path d="M172.5 95.2L182.5 95.2M179.4 96.9L182.5 95.2L179.4 93.6"/>
<path d="M195.8 97.0L204.2 93.5M202.1 96.1L204.2 93.5L200.9 93.2"/>
<path d="M219.8 98.4L226.2 92.1M225.2 95.2L226.2 92.1L223.0 93.0"/>
<path d="M244.7 99.4L248.1 91.1M248.4 94.4L248.1 91.1L245.6 93.2"/>
<path d="M269.5 99.8L269.5 90.8M271.0 93.7L269.5 90.8L268.0 93.7"/>
<path d="M292.0 99.8L292.0 90.8M293.5 93.7L292.0 90.8L290.5 93.7"/>
<path d="M317.9 95.2L312.9 95.2M315.1 94.1L312.9 95.2L315.1 96.4"/>
<path d="M337.1 96.7L339.9 93.8M339.2 96.0L339.9 93.8L337.7 94.5"/>
<path d="M361.5 97.2L361.5 93.2M362.6 95.3L361.5 93.2L360.4 95.3"/>
<path d="M382.1 95.2L387.1 95.2M384.9 96.4L387.1 95.2L384.9 94.1"/>
<path d="M407.8 91.2L407.8 99.2M406.3 96.5L407.8 99.2L409.3 96.5"/>
<path d="M431.8 91.6L428.8 98.9M428.5 95.9L428.8 98.9L431.2 97.0"/>
<path d="M456.9 92.1L450.5 98.4M451.5 95.3L450.5 98.4L453.7 97.5"/>
<path d="M476.9 91.2L476.9 99.2M475.4 96.5L476.9 99.2L478.4 96.5"/>
<path d="M500.0 91.2L500.0 99.2M498.5 96.5L500.0 99.2L501.5 96.5"/>
<path d="M525.1 92.8L520.1 97.7M521.0 95.0L520.1 97.7L522.9 96.9"/>
<path d="M548.4 92.4L542.8 98.1M543.7 95.1L542.8 98.1L545.7 97.2"/>
<path d="M572.4 95.2L565.4 95.2M568.0 93.9L565.4 95.2L568.0 96.6"/>
<path d="M594.9 95.2L587.9 95.2M590.5 93.9L587.9 95.2L590.5 96.6"/>
<path d="M618.2 95.2L612.2 95.2M614.6 94.0L612.2 95.2L614.6 96.5"/>
<path d="M641.2 95.2L635.2 95.2M637.6 94.0L635.2 95.2L637.6 96.5"/>
<path d="M159.5 114.8L170.5 114.8M167.2 116.5L170.5 114.8L167.2 113.1"/>
<path d="M183.8 116.5L192.2 113.1M190.1 115.6L192.2 113.1L188.9 112.8"/>
<path d="M207.5 118.3L214.5 111.3M213.5 114.6L214.5 111.3L211.2 112.3"/>
<path d="M230.5 118.3L237.5 111.3M236.5 114.6L237.5 111.3L234.2 112.3"/>
<path d="M255.3 119.0L258.7 110.6M259.0 113.9L258.7 110.6L256.2 112.7"/>
<path d="M278.3 119.0L281.7 110.6M282.0 113.9L281.7 110.6L279.2 112.7"/>
<path d="M298.8 116.5L307.2 113.1M305.1 115.6L307.2 113.1L303.9 112.8"/>
<path d="M323.0 114.8L329.0 114.8M326.6 116.1L329.0 114.8L326.6 113.5"/>
<path d="M346.0 114.8L352.0 114.8M349.6 116.1L352.0 114.8L349.6 113.5"/>
<path d="M369.5 112.3L374.5 117.3M371.7 116.4L374.5 117.3L373.6 114.5"/>
<path d="M390.4 112.9L399.6 116.7M396.1 117.0L399.6 116.7L397.4 114.0"/>
<path d="M418.0 112.3L418.0 117.3M416.8 115.1L418.0 117.3L419.2 115.1"/>
<path d="M443.5 112.3L438.5 117.3M439.4 114.5L438.5 117.3L441.3 116.4"/>
<path d="M464.5 110.8L464.5 118.8M463.0 116.1L464.5 118.8L466.0 116.1"/>
<path d="M488.7 110.6L485.3 119.0M485.0 115.7L485.3 119.0L487.8 116.9"/>
<path d="M512.0 111.6L509.4 118.0M509.1 115.1L509.4 118.0L511.6 116.2"/>
<path d="M536.5 114.8L529.5 114.8M532.1 113.4L529.5 114.8L532.1 116.2"/>
<path d="M558.6 112.7L554.4 116.9M555.2 114.3L554.4 116.9L557.0 116.1"/>
<path d="M582.6 114.8L576.6 114.8M579.0 113.5L576.6 114.8L579.0 116.1"/>
<path d="M605.5 114.8L598.5 114.8M601.1 113.4L598.5 114.8L601.1 116.2"/>
<path d="M630.4 114.8L621.4 114.8M624.3 113.3L621.4 114.8L624.3 116.3"/>
<path d="M652.2 114.8L646.2 114.8M648.6 113.5L646.2 114.8L648.6 116.1"/>
<path d="M675.4 113.5L669.0 116.1M670.8 113.9L669.0 116.1L671.9 116.4"/>
<path d="M151.5 134.4L157.5 134.4M155.1 135.6L157.5 134.4L155.1 133.1"/>
<path d="M172.0 134.4L182.0 134.4M178.9 136.0L182.0 134.4L178.9 132.7"/>
<path d="M195.4 136.3L204.6 132.4M202.4 135.1L204.6 132.4L201.1 132.1"/>
<path d="M218.4 136.3L227.6 132.4M225.4 135.1L227.6 132.4L224.1 132.1"/>
<path d="M242.5 137.9L249.5 130.8M248.5 134.2L249.5 130.8L246.2 131.8"/>
<path d="M265.9 135.9L273.3 132.8M271.3 135.2L273.3 132.8L270.2 132.5"/>
<path d="M289.8 137.2L295.4 131.5M294.5 134.5L295.4 131.5L292.5 132.4"/>
<path d="M311.4 134.4L319.4 134.4M316.7 135.8L319.4 134.4L316.7 132.9"/>
<path d="M335.3 131.2L341.7 137.5M338.5 136.6L341.7 137.5L340.7 134.4"/>
<path d="M358.7 131.5L364.3 137.2M361.4 136.3L364.3 137.2L363.4 134.2"/>
<path d="M384.6 130.9L384.6 137.9M383.2 135.3L384.6 137.9L386.0 135.3"/>
<path d="M405.0 131.5L410.6 137.2M407.7 136.3L410.6 137.2L409.7 134.2"/>
<path d="M433.6 131.5L428.0 137.2M428.9 134.2L428.0 137.2L430.9 136.3"/>
<path d="M453.7 131.4L453.7 137.4M452.4 135.0L453.7 137.4L455.0 135.0"/>
<path d="M475.0 129.7L478.8 139.0M476.1 136.7L478.8 139.0L479.1 135.5"/>
<path d="M500.0 131.4L500.0 137.4M498.7 135.0L500.0 137.4L501.3 135.0"/>
<path d="M525.4 131.5L519.8 137.2M520.7 134.2L519.8 137.2L522.7 136.3"/>
<path d="M548.1 131.9L543.1 136.8M544.0 134.1L543.1 136.8L545.9 136.0"/>
<path d="M571.4 134.4L566.4 134.4M568.6 133.2L566.4 134.4L568.6 135.5"/>
<path d="M595.4 137.2L589.8 131.5M592.7 132.4L589.8 131.5L590.7 134.5"/>
<path d="M617.7 136.8L612.7 131.9M615.5 132.7L612.7 131.9L613.6 134.6"/>
<path d="M641.2 134.4L635.2 134.4M637.6 133.1L635.2 134.4L637.6 135.6"/>
<path d="M666.5 134.4L656.5 134.4M659.6 132.7L656.5 134.4L659.6 136.0"/>
<path d="M161.0 153.9L169.0 153.9M166.3 155.4L169.0 153.9L166.3 152.4"/>
<path d="M183.5 153.9L192.5 153.9M189.6 155.4L192.5 153.9L189.6 152.4"/>
<path d="M206.5 153.9L215.5 153.9M212.6 155.4L215.5 153.9L212.6 152.4"/>
<path d="M229.5 153.9L238.5 153.9M235.6 155.4L238.5 153.9L235.6 152.4"/>
<path d="M253.5 153.9L260.5 153.9M257.9 155.3L260.5 153.9L257.9 152.5"/>
<path d="M278.7 157.1L281.3 150.7M281.6 153.6L281.3 150.7L279.1 152.5"/>
<path d="M299.0 153.9L307.0 153.9M304.3 155.4L307.0 153.9L304.3 152.4"/>
<path d="M323.0 153.9L329.0 153.9M326.6 155.2L329.0 153.9L326.6 152.6"/>
<path d="M346.8 151.4L351.8 156.4M349.0 155.5L351.8 156.4L350.9 153.6"/>
<path d="M372.2 148.9L372.2 158.9M370.6 155.8L372.2 158.9L373.9 155.8"/>
<path d="M393.5 149.7L396.9 158.1M394.4 156.0L396.9 158.1L397.2 154.8"/>
<path d="M418.4 150.4L418.4 157.4M417.0 154.8L418.4 157.4L419.8 154.8"/>
<path d="M442.2 150.7L439.6 157.1M439.3 154.2L439.6 157.1L441.8 155.3"/>
<path d="M465.5 151.6L463.5 156.2M463.3 153.7L463.5 156.2L465.5 154.6"/>
<path d="M487.5 149.9L487.5 157.9M486.0 155.2L487.5 157.9L489.0 155.2"/>
<path d="M510.7 149.9L510.7 157.9M509.2 155.2L510.7 157.9L512.2 155.2"/>
<path d="M532.3 152.5L535.1 155.3M532.9 154.6L535.1 155.3L534.4 153.1"/>
<path d="M555.0 153.9L559.0 153.9M557.0 155.0L559.0 153.9L557.0 152.8"/>
<path d="M582.6 153.9L576.6 153.9M579.0 152.6L576.6 153.9L579.0 155.2"/>
<path d="M604.6 156.4L599.6 151.4M602.4 152.3L599.6 151.4L600.5 154.2"/>
<path d="M627.7 155.7L624.1 152.1M626.5 152.9L624.1 152.1L624.9 154.5"/>
<path d="M652.2 153.9L646.2 153.9M648.6 152.6L646.2 153.9L648.6 155.2"/>
<path d="M674.3 151.8L670.1 156.0M670.9 153.4L670.1 156.0L672.7 155.2"/>
<path d="M153.1 172.0L155.9 174.9M153.7 174.2L155.9 174.9L155.2 172.7"/>
<path d="M173.8 170.3L180.2 176.6M177.0 175.7L180.2 176.6L179.2 173.5"/>
<path d="M197.4 170.3L203.8 176.6M200.6 175.7L203.8 176.6L202.8 173.5"/>
<path d="M218.9 171.7L227.3 175.2M224.0 175.5L227.3 175.2L225.2 172.6"/>
<path d="M243.9 176.3L249.6 170.6M248.7 173.6L249.6 170.6L246.6 171.5"/>
<path d="M266.4 176.3L272.1 170.6M271.2 173.6L272.1 170.6L269.1 171.5"/>
<path d="M289.8 173.4L293.8 173.4M291.7 174.5L293.8 173.4L291.7 172.4"/>
<path d="M316.5 170.9L316.5 175.9M315.3 173.7L316.5 175.9L317.7 173.7"/>
<path d="M337.2 170.2L339.8 176.7M337.6 174.8L339.8 176.7L340.1 173.8"/>
<path d="M361.5 168.9L361.5 177.9M360.0 175.0L361.5 177.9L363.0 175.0"/>
<path d="M384.6 168.9L384.6 177.9M383.1 175.0L384.6 177.9L386.1 175.0"/>
<path d="M407.8 169.9L407.8 176.9M406.4 174.4L407.8 176.9L409.2 174.4"/>
<path d="M431.9 170.7L429.6 176.2M429.3 173.5L429.6 176.2L431.7 174.5"/>
<path d="M455.4 169.3L452.0 177.6M451.7 174.3L452.0 177.6L454.5 175.5"/>
<path d="M476.9 169.9L476.9 176.9M475.5 174.4L476.9 176.9L478.3 174.4"/>
<path d="M500.0 169.9L500.0 176.9M498.6 174.4L500.0 176.9L501.4 174.4"/>
<path d="M523.3 170.4L523.3 176.4M522.0 174.1L523.3 176.4L524.6 174.1"/>
<path d="M546.3 170.4L546.3 176.4M545.0 174.1L546.3 176.4L547.6 174.1"/>
<path d="M570.9 173.4L566.9 173.4M568.9 172.4L566.9 173.4L568.9 174.5"/>
<path d="M596.2 173.4L588.2 173.4M590.9 172.0L588.2 173.4L590.9 174.9"/>
<path d="M618.0 176.3L612.4 170.6M615.3 171.5L612.4 170.6L613.3 173.6"/>
<path d="M640.2 173.4L636.2 173.4M638.2 172.4L636.2 173.4L638.2 174.5"/>
<path d="M663.6 171.3L659.4 175.6M660.2 173.0L659.4 175.6L662.0 174.8"/>
<path d="M165.0 189.0L165.0 197.0M163.5 194.3L165.0 197.0L166.5 194.3"/>
<path d="M186.5 189.3L189.5 196.7M187.1 194.7L189.5 196.7L189.8 193.6"/>
<path d="M209.0 193.0L213.0 193.0M211.0 194.1L213.0 193.0L211.0 191.9"/>
<path d="M231.9 195.1L236.1 190.9M235.3 193.5L236.1 190.9L233.5 191.7"/>
<path d="M255.7 196.2L258.3 189.8M258.6 192.7L258.3 189.8L256.1 191.6"/>
<path d="M280.0 194.5L280.0 191.5M281.0 193.4L280.0 191.5L279.0 193.4"/>
<path d="M300.0 193.0L306.0 193.0M303.6 194.3L306.0 193.0L303.6 191.7"/>
<path d="M323.9 190.9L328.1 195.1M325.5 194.3L328.1 195.1L327.3 192.5"/>
<path d="M349.3 190.0L349.3 196.0M348.0 193.6L349.3 196.0L350.6 193.6"/>
<path d="M372.2 189.5L372.2 196.5M370.9 193.9L372.2 196.5L373.6 193.9"/>
<path d="M394.1 190.2L396.3 195.8M394.3 194.1L396.3 195.8L396.6 193.1"/>
<path d="M418.4 190.0L418.4 196.0M417.1 193.6L418.4 196.0L419.7 193.6"/>
<path d="M445.1 189.5L438.1 196.5M439.1 193.2L438.1 196.5L441.4 195.5"/>
<path d="M465.8 189.8L463.2 196.2M462.9 193.3L463.2 196.2L465.4 194.4"/>
<path d="M487.5 190.0L487.5 196.0M486.2 193.6L487.5 196.0L488.8 193.6"/>
<path d="M512.4 188.8L509.0 197.2M508.7 193.9L509.0 197.2L511.5 195.1"/>
<path d="M533.7 190.0L533.7 196.0M532.4 193.6L533.7 196.0L535.0 193.6"/>
<path d="M555.0 193.0L559.0 193.0M557.0 194.1L559.0 193.0L557.0 191.9"/>
<path d="M582.6 193.0L576.6 193.0M579.0 191.7L576.6 193.0L579.0 194.3"/>
<path d="M607.6 193.0L597.6 193.0M600.7 191.4L597.6 193.0L600.7 194.6"/>
<path d="M623.9 193.0L627.9 193.0M625.9 194.1L627.9 193.0L625.9 191.9"/>
<path d="M647.2 193.0L651.2 193.0M649.2 194.1L651.2 193.0L649.2 191.9"/>
<path d="M672.2 190.0L672.2 196.0M670.9 193.6L672.2 196.0L673.5 193.6"/>
<path d="M155.9 211.1L153.1 214.0M153.8 211.8L153.1 214.0L155.3 213.3"/>
<path d="M178.0 208.9L175.0 216.2M174.7 213.2L175.0 216.2L177.4 214.3"/>
<path d="M200.0 208.6L200.0 216.6M198.5 213.8L200.0 216.6L201.5 213.8"/>
<path d="M223.1 209.6L223.1 215.6M221.8 213.2L223.1 215.6L224.4 213.2"/>
<path d="M247.3 214.9L245.3 210.2M247.3 211.8L245.3 210.2L245.1 212.7"/>
<path d="M271.0 214.3L267.5 210.8M269.9 211.5L267.5 210.8L268.2 213.2"/>
<path d="M291.8 214.6L291.8 210.6M292.8 212.6L291.8 210.6L290.7 212.6"/>
<path d="M317.4 212.6L313.4 212.6M315.4 211.5L313.4 212.6L315.4 213.6"/>
<path d="M338.5 209.6L338.5 215.6M337.2 213.2L338.5 215.6L339.8 213.2"/>
<path d="M362.8 209.3L360.2 215.8M359.9 212.9L360.2 215.8L362.4 213.9"/>
<path d="M384.6 208.1L384.6 217.1M383.1 214.1L384.6 217.1L386.1 214.1"/>
<path d="M409.5 208.4L406.1 216.7M405.8 213.4L406.1 216.7L408.6 214.6"/>
<path d="M432.5 210.8L429.0 214.3M429.7 211.9L429.0 214.3L431.4 213.6"/>
<path d="M455.2 208.9L452.2 216.2M451.9 213.2L452.2 216.2L454.6 214.3"/>
<path d="M476.9 209.1L476.9 216.1M475.5 213.5L476.9 216.1L478.3 213.5"/>
<path d="M500.0 209.1L500.0 216.1M498.6 213.5L500.0 216.1L501.4 213.5"/>
<path d="M525.8 210.1L520.8 215.0M521.7 212.3L520.8 215.0L523.6 214.2"/>
<path d="M548.1 210.8L544.5 214.3M545.3 211.9L544.5 214.3L546.9 213.6"/>
<path d="M570.9 212.6L566.9 212.6M568.9 211.5L566.9 212.6L568.9 213.6"/>
<path d="M595.7 212.6L588.7 212.6M591.3 211.2L588.7 212.6L591.3 213.9"/>
<path d="M618.7 212.6L611.7 212.6M614.3 211.2L611.7 212.6L614.3 213.9"/>
<path d="M640.2 212.6L636.2 212.6M638.2 211.5L636.2 212.6L638.2 213.6"/>
<path d="M661.5 210.1L661.5 215.1M660.3 212.8L661.5 215.1L662.7 212.8"/>
<path d="M166.8 230.3L163.2 233.9M164.0 231.5L163.2 233.9L165.6 233.1"/>
<path d="M188.4 228.9L185.8 235.3M185.5 232.4L185.8 235.3L188.0 233.5"/>
<path d="M212.8 229.6L207.8 234.6M208.7 231.8L207.8 234.6L210.6 233.7"/>
<path d="M236.2 229.6L231.2 234.6M232.1 231.8L231.2 234.6L234.0 233.7"/>
<path d="M258.7 230.3L255.1 233.9M255.9 231.5L255.1 233.9L257.5 233.1"/>
<path d="M282.5 232.1L277.5 232.1M279.7 230.9L277.5 232.1L279.7 233.3"/>
<path d="M305.3 231.1L300.7 233.1M302.3 231.1L300.7 233.1L303.2 233.3"/>
<path d="M326.0 229.6L326.0 234.6M324.8 232.4L326.0 234.6L327.2 232.4"/>
<path d="M349.3 229.6L349.3 234.6M348.1 232.4L349.3 234.6L350.5 232.4"/>
<path d="M373.6 228.9L370.9 235.3M370.6 232.4L370.9 235.3L373.1 233.5"/>
<path d="M393.9 228.9L396.5 235.3M394.3 233.5L396.5 235.3L396.8 232.4"/>
<path d="M421.2 229.3L415.6 234.9M416.5 232.0L415.6 234.9L418.5 234.0"/>
<path d="M443.4 229.6L438.4 234.6M439.3 231.8L438.4 234.6L441.2 233.7"/>
<path d="M464.5 228.1L464.5 236.1M463.0 233.4L464.5 236.1L466.0 233.4"/>
<path d="M488.6 229.3L486.4 234.9M486.1 232.2L486.4 234.9L488.4 233.2"/>
<path d="M512.8 230.0L508.6 234.2M509.4 231.6L508.6 234.2L511.2 233.4"/>
<path d="M535.8 230.0L531.6 234.2M532.4 231.6L531.6 234.2L534.2 233.4"/>
<path d="M559.1 230.0L554.9 234.2M555.7 231.6L554.9 234.2L557.5 233.4"/>
<path d="M580.9 232.1L576.9 232.1M578.9 231.0L576.9 232.1L578.9 233.2"/>
<path d="M604.1 232.1L601.1 232.1M603.0 231.1L601.1 232.1L603.0 233.1"/>
<path d="M627.4 232.1L624.4 232.1M626.3 231.1L624.4 232.1L626.3 233.1"/>
<path d="M649.2 233.6L649.2 230.6M650.2 232.5L649.2 230.6L648.2 232.5"/>
<path d="M674.2 232.1L670.2 232.1M672.2 231.0L670.2 232.1L672.2 233.2"/>
<path d="M155.9 250.2L153.1 253.1M153.8 250.9L153.1 253.1L155.3 252.4"/>
<path d="M177.0 250.2L177.0 253.2M176.0 251.3L177.0 253.2L178.0 251.3"/>
<path d="M202.5 251.7L197.5 251.7M199.7 250.5L197.5 251.7L199.7 252.8"/>
<path d="M223.1 250.2L223.1 253.2M222.1 251.3L223.1 253.2L224.1 251.3"/>
<path d="M250.8 251.7L241.8 251.7M244.7 250.1L241.8 251.7L244.7 253.2"/>
<path d="M273.2 251.7L265.2 251.7M268.0 250.2L265.2 251.7L268.0 253.1"/>
<path d="M295.7 251.7L288.7 251.7M291.3 250.3L288.7 251.7L291.3 253.0"/>
<path d="M317.9 249.2L312.9 254.1M313.8 251.4L312.9 254.1L315.7 253.3"/>
<path d="M339.8 248.4L337.2 254.9M336.9 252.0L337.2 254.9L339.4 253.0"/>
<path d="M364.0 249.2L359.0 254.1M359.9 251.4L359.0 254.1L361.8 253.3"/>
<path d="M386.1 248.0L383.1 255.3M382.8 252.3L383.1 255.3L385.5 253.4"/>
<path d="M407.8 250.2L407.8 253.2M406.8 251.3L407.8 253.2L408.8 251.3"/>
<path d="M432.3 248.0L429.2 255.3M428.9 252.3L429.2 255.3L431.6 253.4"/>
<path d="M456.5 248.8L450.9 254.5M451.8 251.5L450.9 254.5L453.8 253.6"/>
<path d="M475.4 251.7L478.4 251.7M476.5 252.6L478.4 251.7L476.5 250.7"/>
<path d="M502.5 249.2L497.5 254.1M498.4 251.4L497.5 254.1L500.3 253.3"/>
<path d="M525.4 249.5L521.2 253.8M522.0 251.2L521.2 253.8L523.8 253.0"/>
<path d="M548.3 251.7L544.3 251.7M546.3 250.6L544.3 251.7L546.3 252.7"/>
<path d="M569.4 249.7L569.4 253.7M568.3 251.6L569.4 253.7L570.5 251.6"/>
<path d="M593.6 250.2L590.8 253.1M591.5 250.9L590.8 253.1L593.0 252.4"/>
<path d="M615.2 249.7L615.2 253.7M614.1 251.6L615.2 253.7L616.3 251.6"/>
<path d="M638.2 249.7L638.2 253.7M637.1 251.6L638.2 253.7L639.3 251.6"/>
<path d="M662.6 248.9L660.4 254.4M660.1 251.7L660.4 254.4L662.4 252.7"/>
<path d="M167.1 273.3L162.9 269.1M165.5 269.9L162.9 269.1L163.7 271.7"/>
<path d="M188.0 269.2L188.0 273.2M186.9 271.2L188.0 273.2L189.1 271.2"/>
<path d="M208.9 273.3L213.1 269.1M212.3 271.7L213.1 269.1L210.5 269.9"/>
<path d="M235.5 271.2L232.5 271.2M234.4 270.2L232.5 271.2L234.4 272.2"/>
<path d="M261.0 271.2L253.0 271.2M255.7 269.7L253.0 271.2L255.7 272.7"/>
<path d="M284.5 271.2L275.5 271.2M278.4 269.7L275.5 271.2L278.4 272.7"/>
<path d="M307.2 269.5L298.8 272.9M300.9 270.4L298.8 272.9L302.1 273.2"/>
<path d="M326.0 268.7L326.0 273.7M324.8 271.5L326.0 273.7L327.2 271.5"/>
<path d="M352.5 268.0L346.1 274.4M347.1 271.2L346.1 274.4L349.3 273.4"/>
<path d="M374.4 269.1L370.1 273.3M370.9 270.7L370.1 273.3L372.7 272.5"/>
<path d="M396.7 267.5L393.7 274.9M393.4 271.8L393.7 274.9L396.1 272.9"/>
<path d="M418.4 269.2L418.4 273.2M417.3 271.2L418.4 273.2L419.5 271.2"/>
<path d="M445.8 269.5L437.4 272.9M439.5 270.4L437.4 272.9L440.7 273.2"/>
<path d="M466.6 269.1L462.4 273.3M463.2 270.7L462.4 273.3L465.0 272.5"/>
<path d="M485.4 269.1L489.6 273.3M487.0 272.5L489.6 273.3L488.8 270.7"/>
<path d="M514.2 267.7L507.2 274.7M508.2 271.4L507.2 274.7L510.5 273.7"/>
<path d="M533.7 273.2L533.7 269.2M534.8 271.2L533.7 269.2L532.6 271.2"/>
<path d="M554.9 269.1L559.1 273.3M556.5 272.5L559.1 273.3L558.3 270.7"/>
<path d="M578.9 269.8L581.7 272.6M579.5 271.9L581.7 272.6L581.0 270.4"/>
<path d="M604.1 271.2L601.1 271.2M603.0 270.2L601.1 271.2L603.0 272.2"/>
<path d="M627.4 271.2L624.4 271.2M626.3 270.2L624.4 271.2L626.3 272.2"/>
<path d="M649.2 269.2L649.2 273.2M648.1 271.2L649.2 273.2L650.3 271.2"/>
<path d="M674.0 269.4L670.4 273.0M671.2 270.6L670.4 273.0L672.8 272.2"/>
<path d="M174.5 293.2L179.5 288.3M178.6 291.0L179.5 288.3L176.7 289.1"/>
<path d="M198.2 289.0L201.8 292.5M199.4 291.8L201.8 292.5L201.0 290.1"/>
<path d="M223.1 284.8L223.1 296.8M221.3 293.3L223.1 296.8L224.9 293.3"/>
<path d="M247.8 294.4L244.8 287.1M247.2 289.0L244.8 287.1L244.5 290.1"/>
<path d="M271.8 290.8L266.8 290.8M269.0 289.6L266.8 290.8L269.0 291.9"/>
<path d="M294.7 288.3L289.7 293.2M290.6 290.5L289.7 293.2L292.5 292.4"/>
<path d="M318.2 287.9L312.6 293.6M313.5 290.6L312.6 293.6L315.5 292.7"/>
<path d="M338.5 288.2L338.5 293.2M337.3 291.0L338.5 293.2L339.7 291.0"/>
<path d="M363.0 287.1L360.0 294.4M359.7 291.4L360.0 294.4L362.4 292.5"/>
<path d="M386.3 286.6L382.9 294.9M382.6 291.6L382.9 294.9L385.4 292.8"/>
<path d="M409.2 289.3L406.4 292.2M407.1 290.0L406.4 292.2L408.6 291.5"/>
<path d="M431.0 289.3L428.2 292.2M428.9 290.0L428.2 292.2L430.4 291.5"/>
<path d="M456.9 287.6L450.5 293.9M451.5 290.8L450.5 293.9L453.7 293.0"/>
<path d="M476.9 288.2L476.9 293.2M475.7 291.0L476.9 293.2L478.1 291.0"/>
<path d="M498.9 289.7L501.1 291.8M499.1 291.2L501.1 291.8L500.4 289.8"/>
<path d="M527.9 288.8L518.7 292.7M520.9 290.0L518.7 292.7L522.2 293.0"/>
<path d="M546.3 287.8L546.3 293.8M545.0 291.4L546.3 293.8L547.6 291.4"/>
<path d="M567.4 290.8L570.4 290.8M568.5 291.7L570.4 290.8L568.5 289.8"/>
<path d="M590.2 290.8L594.2 290.8M592.2 291.8L594.2 290.8L592.2 289.7"/>
<path d="M615.2 288.8L615.2 292.8M614.1 290.7L615.2 292.8L616.3 290.7"/>
<path d="M638.2 289.2L638.2 292.2M637.2 290.4L638.2 292.2L639.2 290.4"/>
<path d="M662.9 289.3L660.1 292.2M660.8 290.0L660.1 292.2L662.3 291.5"/>
<path d="M165.0 313.3L165.0 307.3M166.3 309.7L165.0 307.3L163.7 309.7"/>
<path d="M185.2 313.1L190.8 307.5M189.9 310.4L190.8 307.5L187.9 308.4"/>
<path d="M209.0 310.3L213.0 310.3M211.0 311.4L213.0 310.3L211.0 309.2"/>
<path d="M230.3 308.8L237.7 311.8M234.6 312.1L237.7 311.8L235.7 309.4"/>
<path d="M259.5 310.3L254.5 310.3M256.7 309.1L254.5 310.3L256.7 311.5"/>
<path d="M284.0 310.3L276.0 310.3M278.7 308.8L276.0 310.3L278.7 311.8"/>
<path d="M305.8 307.5L300.2 313.1M301.1 310.2L300.2 313.1L303.1 312.2"/>
<path d="M327.5 306.6L324.5 314.0M324.2 310.9L324.5 314.0L326.9 312.0"/>
<path d="M350.4 307.5L348.2 313.1M347.9 310.4L348.2 313.1L350.2 311.4"/>
<path d="M373.8 306.6L370.7 314.0M370.4 310.9L370.7 314.0L373.1 312.0"/>
<path d="M397.7 307.8L392.7 312.8M393.6 310.0L392.7 312.8L395.5 311.9"/>
<path d="M420.9 307.8L415.9 312.8M416.8 310.0L415.9 312.8L418.7 311.9"/>
<path d="M439.3 309.3L443.9 311.3M441.4 311.5L443.9 311.3L442.3 309.3"/>
<path d="M467.0 307.8L462.0 312.8M462.9 310.0L462.0 312.8L464.8 311.9"/>
<path d="M487.5 308.3L487.5 312.3M486.4 310.3L487.5 312.3L488.6 310.3"/>
<path d="M512.8 308.2L508.6 312.4M509.4 309.8L508.6 312.4L511.2 311.6"/>
<path d="M535.7 310.3L531.7 310.3M533.7 309.2L531.7 310.3L533.7 311.4"/>
<path d="M557.9 311.7L555.1 308.9M557.3 309.6L555.1 308.9L555.8 311.1"/>
<path d="M578.1 310.3L581.1 310.3M579.2 311.3L581.1 310.3L579.2 309.3"/>
<path d="M602.6 307.8L602.6 312.8M601.4 310.6L602.6 312.8L603.8 310.6"/>
<path d="M627.0 311.4L624.8 309.2M626.8 309.9L624.8 309.2L625.5 311.2"/>
<path d="M649.2 312.3L649.2 308.3M650.3 310.3L649.2 308.3L648.1 310.3"/>
<path d="M672.2 308.8L672.2 311.8M671.2 309.9L672.2 311.8L673.2 309.9"/>
<path d="M175.2 331.6L178.8 328.1M178.0 330.5L178.8 328.1L176.4 328.8"/>
<path d="M198.3 325.7L201.7 334.0M199.2 331.9L201.7 334.0L202.0 330.7"/>
<path d="M221.3 328.1L224.9 331.6M222.5 330.9L224.9 331.6L224.1 329.2"/>
<path d="M243.3 329.9L249.3 329.9M246.9 331.1L249.3 329.9L246.9 328.6"/>
<path d="M271.7 327.4L266.8 332.3M267.6 329.6L266.8 332.3L269.5 331.5"/>
<path d="M294.3 327.7L290.1 332.0M290.9 329.4L290.1 332.0L292.7 331.2"/>
<path d="M317.9 327.4L312.9 332.3M313.8 329.6L312.9 332.3L315.7 331.5"/>
<path d="M340.2 325.7L336.8 334.0M336.5 330.7L336.8 334.0L339.3 331.9"/>
<path d="M363.4 325.2L359.6 334.5M359.3 331.0L359.6 334.5L362.3 332.2"/>
<path d="M387.8 326.7L381.4 333.0M382.4 329.9L381.4 333.0L384.6 332.1"/>
<path d="M410.6 327.0L405.0 332.7M405.9 329.7L405.0 332.7L407.9 331.8"/>
<path d="M433.2 327.4L428.3 332.3M429.1 329.6L428.3 332.3L431.0 331.5"/>
<path d="M453.7 325.9L453.7 333.9M452.2 331.1L453.7 333.9L455.2 331.1"/>
<path d="M478.4 326.2L475.4 333.5M475.1 330.5L475.4 333.5L477.8 331.6"/>
<path d="M500.0 326.9L500.0 332.9M498.7 330.5L500.0 332.9L501.3 330.5"/>
<path d="M523.3 327.4L523.3 332.4M522.1 330.1L523.3 332.4L524.5 330.1"/>
<path d="M549.1 328.7L543.5 331.0M545.2 328.9L543.5 331.0L546.2 331.3"/>
<path d="M569.4 328.4L569.4 331.4M568.4 329.5L569.4 331.4L570.4 329.5"/>
<path d="M590.8 328.1L594.4 331.6M592.0 330.9L594.4 331.6L593.6 329.2"/>
<path d="M613.4 329.9L618.4 329.9M616.2 331.0L618.4 329.9L616.2 328.7"/>
<path d="M639.0 327.9L639.0 331.9M637.9 329.8L639.0 331.9L640.1 329.8"/>
<path d="M664.0 327.4L659.0 332.3M659.9 329.6L659.0 332.3L661.8 331.5"/>
<path d="M209.5 349.4L212.5 349.4M210.6 350.4L212.5 349.4L210.6 348.4"/>
<path d="M228.0 349.4L240.0 349.4M236.6 351.2L240.0 349.4L236.6 347.6"/>
<path d="M254.0 349.4L260.0 349.4M257.6 350.7L260.0 349.4L257.6 348.1"/>
<path d="M280.0 346.9L280.0 351.9M278.8 349.7L280.0 351.9L281.2 349.7"/>
<path d="M305.8 346.6L300.2 352.2M301.1 349.3L300.2 352.2L303.1 351.3"/>
<path d="M328.1 347.3L323.9 351.5M324.7 348.9L323.9 351.5L326.5 350.7"/>
<path d="M351.4 347.3L347.2 351.5M348.0 348.9L347.2 351.5L349.8 350.7"/>
<path d="M375.5 348.1L369.0 350.7M370.9 348.5L369.0 350.7L371.9 351.0"/>
<path d="M398.9 347.9L391.5 350.9M393.5 348.5L391.5 350.9L394.6 351.2"/>
<path d="M419.7 346.2L417.1 352.6M416.8 349.7L417.1 352.6L419.3 350.8"/>
<path d="M444.1 346.9L439.1 351.9M440.0 349.1L439.1 351.9L441.9 351.0"/>
<path d="M464.5 345.4L464.5 353.4M463.0 350.7L464.5 353.4L466.0 350.7"/>
<path d="M487.5 343.9L487.5 354.9M485.8 351.6L487.5 354.9L489.2 351.6"/>
<path d="M508.9 347.6L512.5 351.2M510.1 350.4L512.5 351.2L511.7 348.8"/>
<path d="M533.7 346.9L533.7 351.9M532.5 349.7L533.7 351.9L534.9 349.7"/>
<path d="M557.0 345.4L557.0 353.4M555.5 350.7L557.0 353.4L558.5 350.7"/>
<path d="M580.3 345.4L580.3 353.4M578.8 350.7L580.3 353.4L581.8 350.7"/>
<path d="M601.8 349.4L604.8 349.4M602.9 350.4L604.8 349.4L602.9 348.4"/>
<path d="M625.9 346.4L625.9 352.4M624.6 350.0L625.9 352.4L627.2 350.0"/>
<path d="M647.7 349.4L650.7 349.4M648.8 350.4L650.7 349.4L648.8 348.4"/>
<path d="M676.4 347.7L668.0 351.1M670.1 348.6L668.0 351.1L671.3 351.4"/>
<path d="M156.3 370.7L152.7 367.2M155.1 367.9L152.7 367.2L153.5 369.6"/>
<path d="M180.2 372.1L173.8 365.8M177.0 366.7L173.8 365.8L174.8 368.9"/>
<path d="M200.0 373.4L200.0 364.4M201.5 367.4L200.0 364.4L198.5 367.4"/>
<path d="M219.1 368.9L227.1 368.9M224.4 370.4L227.1 368.9L224.4 367.5"/>
<path d="M240.3 368.9L252.3 368.9M248.9 370.8L252.3 368.9L248.9 367.1"/>
<path d="M265.2 368.9L273.2 368.9M270.5 370.4L273.2 368.9L270.5 367.5"/>
<path d="M292.2 366.4L292.2 371.4M291.0 369.2L292.2 371.4L293.4 369.2"/>
<path d="M318.2 366.1L312.6 371.8M313.5 368.8L312.6 371.8L315.5 370.9"/>
<path d="M340.0 365.3L337.0 372.6M336.7 369.6L337.0 372.6L339.4 370.7"/>
<path d="M364.0 366.5L359.0 371.4M359.9 368.7L359.0 371.4L361.8 370.6"/>
<path d="M386.7 366.8L382.5 371.1M383.3 368.5L382.5 371.1L385.1 370.3"/>
<path d="M410.3 366.5L405.3 371.4M406.2 368.7L405.3 371.4L408.1 370.6"/>
<path d="M434.4 367.4L427.1 370.5M429.0 368.1L427.1 370.5L430.1 370.8"/>
<path d="M454.8 366.2L452.6 371.7M452.3 369.0L452.6 371.7L454.6 370.0"/>
<path d="M478.2 365.7L475.6 372.2M475.3 369.3L475.6 372.2L477.8 370.3"/>
<path d="M500.0 364.9L500.0 372.9M498.5 370.2L500.0 372.9L501.5 370.2"/>
<path d="M523.3 366.9L523.3 370.9M522.2 368.9L523.3 370.9L524.4 368.9"/>
<path d="M546.3 366.9L546.3 370.9M545.2 368.9L546.3 370.9L547.4 368.9"/>
<path d="M570.8 367.5L568.0 370.4M568.7 368.2L568.0 370.4L570.2 369.7"/>
<path d="M592.6 367.4L592.6 370.4M591.6 368.6L592.6 370.4L593.6 368.6"/>
<path d="M614.4 365.3L617.4 372.6M615.0 370.7L617.4 372.6L617.7 369.6"/>
<path d="M639.0 367.4L639.0 370.4M638.0 368.6L639.0 370.4L640.0 368.6"/>
<path d="M663.3 367.2L659.7 370.7M660.5 368.3L659.7 370.7L662.1 370.0"/>
<path d="M170.5 388.5L159.5 388.5M162.8 386.8L159.5 388.5L162.8 390.2"/>
<path d="M190.5 386.0L185.5 391.0M186.4 388.2L185.5 391.0L188.3 390.1"/>
<path d="M208.5 386.0L213.5 391.0M210.7 390.1L213.5 391.0L212.6 388.2"/>
<path d="M229.4 383.9L238.6 393.1M234.7 391.9L238.6 393.1L237.4 389.2"/>
<path d="M253.8 385.3L260.2 391.7M257.0 390.7L260.2 391.7L259.2 388.5"/>
<path d="M276.3 387.0L283.7 390.0M280.6 390.3L283.7 390.0L281.7 387.6"/>
<path d="M303.0 384.5L303.0 392.5M301.5 389.8L303.0 392.5L304.5 389.8"/>
<path d="M328.5 386.0L323.5 391.0M324.4 388.2L323.5 391.0L326.3 390.1"/>
<path d="M351.8 386.0L346.8 391.0M347.7 388.2L346.8 391.0L349.6 390.1"/>
<path d="M376.4 386.8L368.1 390.2M370.2 387.7L368.1 390.2L371.4 390.5"/>
<path d="M398.9 387.0L391.5 390.0M393.5 387.6L391.5 390.0L394.6 390.3"/>
<path d="M421.6 387.2L415.2 389.8M417.0 387.6L415.2 389.8L418.1 390.1"/>
<path d="M441.6 386.5L441.6 390.5M440.5 388.5L441.6 390.5L442.7 388.5"/>
<path d="M467.3 385.7L461.7 391.3M462.6 388.4L461.7 391.3L464.6 390.4"/>
<path d="M487.5 386.5L487.5 390.5M486.4 388.5L487.5 390.5L488.6 388.5"/>
<path d="M510.7 386.5L510.7 390.5M509.6 388.5L510.7 390.5L511.8 388.5"/>
<path d="M533.7 386.5L533.7 390.5M532.6 388.5L533.7 390.5L534.8 388.5"/>
<path d="M557.0 386.5L557.0 390.5M555.9 388.5L557.0 390.5L558.1 388.5"/>
<path d="M580.3 386.5L580.3 390.5M579.2 388.5L580.3 390.5L581.4 388.5"/>
<path d="M601.5 386.7L605.1 390.3M602.7 389.5L605.1 390.3L604.3 387.9"/>
<path d="M625.9 386.0L625.9 391.0M624.7 388.8L625.9 391.0L627.1 388.8"/>
<path d="M649.2 386.5L649.2 390.5M648.1 388.5L649.2 390.5L650.3 388.5"/>
<path d="M672.2 386.5L672.2 390.5M671.1 388.5L672.2 390.5L673.3 388.5"/>
<path d="M244.0 402.5L248.6 413.6M245.6 411.1L248.6 413.6L249.0 409.7"/>
<path d="M266.1 404.9L272.4 411.2M269.3 410.3L272.4 411.2L271.5 408.1"/>
<path d="M290.7 404.4L293.7 411.7M291.3 409.8L293.7 411.7L294.0 408.7"/>
<path d="M317.1 403.9L313.7 412.2M313.4 408.9L313.7 412.2L316.2 410.1"/>
<path d="M340.4 403.4L336.6 412.7M336.3 409.2L336.6 412.7L339.3 410.4"/>
<path d="M363.0 404.4L360.0 411.7M359.7 408.7L360.0 411.7L362.4 409.8"/>
<path d="M386.1 404.4L383.1 411.7M382.8 408.7L383.1 411.7L385.5 409.8"/>
<path d="M410.3 405.6L405.3 410.5M406.2 407.8L405.3 410.5L408.1 409.7"/>
<path d="M431.9 405.3L429.6 410.8M429.3 408.1L429.6 410.8L431.7 409.1"/>
<path d="M457.9 406.3L449.5 409.8M451.6 407.2L449.5 409.8L452.8 410.1"/>
<path d="M478.6 403.9L475.2 412.2M474.9 408.9L475.2 412.2L477.7 410.1"/>
<path d="M500.0 405.1L500.0 411.1M498.7 408.7L500.0 411.1L501.3 408.7"/>
<path d="M525.8 405.6L520.8 410.5M521.7 407.8L520.8 410.5L523.6 409.7"/>
<path d="M546.3 406.1L546.3 410.1M545.2 408.0L546.3 410.1L547.4 408.0"/>
<path d="M569.4 405.6L569.4 410.6M568.2 408.3L569.4 410.6L570.6 408.3"/>
<path d="M592.6 405.1L592.6 411.1M591.3 408.7L592.6 411.1L593.9 408.7"/>
<path d="M615.9 405.1L615.9 411.1M614.6 408.7L615.9 411.1L617.2 408.7"/>
<path d="M639.0 405.6L639.0 410.6M637.8 408.3L639.0 410.6L640.2 408.3"/>
<path d="M661.5 405.6L661.5 410.6M660.3 408.3L661.5 410.6L662.7 408.3"/>
<path d="M234.0 423.1L234.0 432.1M232.5 429.2L234.0 432.1L235.5 429.2"/>
<path d="M254.2 424.8L259.8 430.4M256.9 429.5L259.8 430.4L258.9 427.5"/>
<path d="M277.2 424.8L282.8 430.4M279.9 429.5L282.8 430.4L281.9 427.5"/>
<path d="M303.0 424.1L303.0 431.1M301.6 428.5L303.0 431.1L304.4 428.5"/>
<path d="M326.0 423.6L326.0 431.6M324.5 428.9L326.0 431.6L327.5 428.9"/>
<path d="M350.8 423.9L347.8 431.3M347.5 428.2L347.8 431.3L350.2 429.3"/>
<path d="M374.0 423.4L370.5 431.8M370.2 428.5L370.5 431.8L373.1 429.7"/>
<path d="M398.0 424.8L392.4 430.4M393.3 427.5L392.4 430.4L395.3 429.5"/>
<path d="M420.5 425.5L416.3 429.7M417.1 427.1L416.3 429.7L418.9 428.9"/>
<path d="M444.1 425.1L439.1 430.1M440.0 427.3L439.1 430.1L441.9 429.2"/>
<path d="M467.3 426.5L461.7 428.7M463.4 426.7L461.7 428.7L464.4 429.0"/>
<path d="M490.7 424.4L484.3 430.8M485.3 427.6L484.3 430.8L487.5 429.8"/>
<path d="M512.8 425.5L508.6 429.7M509.4 427.1L508.6 429.7L511.2 428.9"/>
<path d="M536.2 425.1L531.2 430.1M532.1 427.3L531.2 430.1L534.0 429.2"/>
<path d="M557.0 425.6L557.0 429.6M555.9 427.6L557.0 429.6L558.1 427.6"/>
<path d="M580.3 424.6L580.3 430.6M579.0 428.2L580.3 430.6L581.6 428.2"/>
<path d="M601.9 426.2L604.7 429.0M602.5 428.3L604.7 429.0L604.0 426.8"/>
<path d="M625.9 424.6L625.9 430.6M624.6 428.2L625.9 430.6L627.2 428.2"/>
<path d="M649.2 425.6L649.2 429.6M648.1 427.6L649.2 429.6L650.3 427.6"/>
<path d="M672.2 425.6L672.2 429.6M671.1 427.6L672.2 429.6L673.3 427.6"/>
<path d="M156.3 445.4L152.7 448.9M153.5 446.5L152.7 448.9L155.1 448.2"/>
<path d="M182.7 441.5L171.3 452.8M172.7 448.3L171.3 452.8L175.8 451.4"/>
<path d="M246.3 442.6L246.3 451.6M244.8 448.7L246.3 451.6L247.8 448.7"/>
<path d="M266.1 444.0L272.4 450.3M269.3 449.4L272.4 450.3L271.5 447.2"/>
<path d="M289.4 444.3L295.0 450.0M292.1 449.1L295.0 450.0L294.1 447.0"/>
<path d="M315.4 443.1L315.4 451.1M313.9 448.4L315.4 451.1L316.9 448.4"/>
<path d="M341.3 444.3L335.7 450.0M336.6 447.0L335.7 450.0L338.6 449.1"/>
<path d="M361.5 443.6L361.5 450.6M360.1 448.1L361.5 450.6L362.9 448.1"/>
<path d="M386.1 443.5L383.1 450.8M382.8 447.8L383.1 450.8L385.5 448.9"/>
<path d="M410.3 444.7L405.3 449.6M406.2 446.9L405.3 449.6L408.1 448.8"/>
<path d="M430.8 445.6L430.8 448.6M429.8 446.8L430.8 448.6L431.7 446.8"/>
<path d="M455.7 447.1L451.7 447.1M453.7 446.1L451.7 447.1L453.7 448.2"/>
<path d="M480.6 445.6L473.2 448.7M475.2 446.3L473.2 448.7L476.3 449.0"/>
<path d="M502.8 444.3L497.2 450.0M498.1 447.0L497.2 450.0L500.1 449.1"/>
<path d="M526.8 443.6L519.8 450.7M520.8 447.3L519.8 450.7L523.1 449.7"/>
<path d="M546.3 445.1L546.3 449.1M545.2 447.1L546.3 449.1L547.4 447.1"/>
<path d="M569.4 445.1L569.4 449.1M568.3 447.1L569.4 449.1L570.5 447.1"/>
<path d="M593.5 443.9L590.9 450.4M590.6 447.5L590.9 450.4L593.1 448.5"/>
<path d="M612.9 447.1L618.9 447.1M616.5 448.4L618.9 447.1L616.5 445.9"/>
<path d="M639.0 445.1L639.0 449.1M637.9 447.1L639.0 449.1L640.1 447.1"/>
<path d="M661.5 445.1L661.5 449.1M660.4 447.1L661.5 449.1L662.6 447.1"/>
<path d="M169.2 465.0L160.8 468.4M162.9 465.9L160.8 468.4L164.1 468.7"/>
<path d="M191.9 462.8L184.1 470.6M185.2 467.1L184.1 470.6L187.6 469.5"/>
<path d="M212.7 462.5L209.3 470.9M209.0 467.6L209.3 470.9L211.8 468.8"/>
<path d="M234.0 461.2L234.0 472.2M232.3 468.9L234.0 472.2L235.7 468.9"/>
<path d="M255.3 462.5L258.7 470.9M256.2 468.8L258.7 470.9L259.0 467.6"/>
<path d="M280.0 462.7L280.0 470.7M278.5 468.0L280.0 470.7L281.5 468.0"/>
<path d="M303.0 465.2L303.0 468.2M302.0 466.3L303.0 468.2L304.0 466.3"/>
<path d="M327.3 463.5L324.7 469.9M324.4 467.0L324.7 469.9L326.9 468.1"/>
<path d="M351.2 462.1L347.4 471.3M347.1 467.8L347.4 471.3L350.1 469.1"/>
<path d="M375.0 465.6L369.5 467.8M371.2 465.8L369.5 467.8L372.2 468.1"/>
<path d="M396.6 465.3L393.8 468.1M394.5 465.9L393.8 468.1L396.0 467.4"/>
<path d="M418.4 462.2L418.4 471.2M416.9 468.3L418.4 471.2L419.9 468.3"/>
<path d="M441.6 462.2L441.6 471.2M440.1 468.3L441.6 471.2L443.1 468.3"/>
<path d="M465.9 465.3L463.1 468.1M463.8 465.9L463.1 468.1L465.3 467.4"/>
<path d="M491.2 465.2L483.8 468.2M485.8 465.8L483.8 468.2L486.9 468.5"/>
<path d="M511.8 463.9L509.6 469.5M509.3 466.8L509.6 469.5L511.6 467.8"/>
<path d="M536.2 464.2L531.2 469.2M532.1 466.4L531.2 469.2L534.0 468.3"/>
<path d="M557.0 463.2L557.0 470.2M555.6 467.6L557.0 470.2L558.4 467.6"/>
<path d="M580.9 463.5L578.3 469.9M578.0 467.0L578.3 469.9L580.5 468.1"/>
<path d="M603.3 463.2L603.3 470.2M601.9 467.6L603.3 470.2L604.7 467.6"/>
<path d="M623.8 464.6L628.0 468.8M625.4 468.0L628.0 468.8L627.2 466.2"/>
<path d="M650.2 464.4L648.2 469.0M648.0 466.5L648.2 469.0L650.2 467.4"/>
<path d="M674.0 464.9L670.4 468.5M671.2 466.1L670.4 468.5L672.8 467.7"/>
<path d="M156.3 484.5L152.7 488.0M153.5 485.6L152.7 488.0L155.1 487.3"/>
<path d="M180.2 483.1L173.8 489.4M174.8 486.3L173.8 489.4L177.0 488.5"/>
<path d="M203.5 482.7L196.5 489.8M197.5 486.4L196.5 489.8L199.8 488.8"/>
<path d="M224.2 483.5L222.0 489.0M221.7 486.3L222.0 489.0L224.0 487.3"/>
<path d="M249.8 486.2L242.8 486.2M245.4 484.9L242.8 486.2L245.4 487.6"/>
<path d="M272.0 485.1L266.5 487.4M268.2 485.3L266.5 487.4L269.2 487.7"/>
<path d="M292.2 487.8L292.2 484.8M293.2 486.6L292.2 484.8L291.2 486.6"/>
<path d="M317.2 484.5L313.6 488.0M314.4 485.6L313.6 488.0L316.0 487.3"/>
<path d="M338.5 483.2L338.5 489.2M337.2 486.9L338.5 489.2L339.8 486.9"/>
<path d="M367.0 484.0L356.0 488.5M358.4 485.5L356.0 488.5L359.8 488.9"/>
<path d="M386.9 485.3L382.3 487.2M383.9 485.3L382.3 487.2L384.8 487.4"/>
<path d="M406.0 484.5L409.6 488.0M407.2 487.3L409.6 488.0L408.8 485.6"/>
<path d="M430.8 482.2L430.8 490.2M429.3 487.5L430.8 490.2L432.2 487.5"/>
<path d="M453.7 482.8L453.7 489.8M452.3 487.2L453.7 489.8L455.1 487.2"/>
<path d="M476.9 483.2L476.9 489.2M475.6 486.9L476.9 489.2L478.2 486.9"/>
<path d="M502.5 483.8L497.5 488.7M498.4 486.0L497.5 488.7L500.3 487.9"/>
<path d="M521.9 484.8L524.7 487.7M522.5 487.0L524.7 487.7L524.0 485.5"/>
<path d="M546.3 484.2L546.3 488.2M545.2 486.2L546.3 488.2L547.4 486.2"/>
<path d="M570.5 483.5L568.3 489.0M568.0 486.3L568.3 489.0L570.3 487.3"/>
<path d="M592.6 482.8L592.6 489.8M591.2 487.2L592.6 489.8L594.0 487.2"/>
<path d="M615.9 483.8L615.9 488.8M614.7 486.5L615.9 488.8L617.1 486.5"/>
<path d="M636.2 485.1L641.8 487.4M639.1 487.7L641.8 487.4L640.1 485.3"/>
<path d="M663.6 484.1L659.4 488.4M660.2 485.8L659.4 488.4L662.0 487.6"/>
<path d="M165.0 501.3L165.0 510.3M163.5 507.4L165.0 510.3L166.5 507.4"/>
<path d="M190.8 503.0L185.2 508.6M186.1 505.7L185.2 508.6L188.1 507.7"/>
<path d="M214.2 504.5L207.8 507.1M209.6 504.9L207.8 507.1L210.7 507.4"/>
<path d="M237.2 504.5L230.8 507.1M232.6 504.9L230.8 507.1L233.7 507.4"/>
<path d="M260.5 505.8L253.5 505.8M256.1 504.4L253.5 505.8L256.1 507.2"/>
<path d="M280.0 507.3L280.0 504.3M281.0 506.2L280.0 504.3L279.0 506.2"/>
<path d="M304.4 507.2L301.6 504.4M303.8 505.1L301.6 504.4L302.3 506.6"/>
<path d="M324.0 505.8L328.0 505.8M326.0 506.9L328.0 505.8L326.0 504.7"/>
<path d="M352.1 506.9L346.5 504.7M349.2 504.4L346.5 504.7L348.2 506.7"/>
<path d="M376.8 505.8L367.8 505.8M370.7 504.3L367.8 505.8L370.7 507.3"/>
<path d="M396.3 503.0L394.1 508.6M393.8 505.9L394.1 508.6L396.1 506.9"/>
<path d="M416.9 502.1L419.9 509.5M417.5 507.5L419.9 509.5L420.2 506.4"/>
<path d="M441.6 501.8L441.6 509.8M440.1 507.1L441.6 509.8L443.1 507.1"/>
<path d="M464.5 501.3L464.5 510.3M463.0 507.4L464.5 510.3L466.0 507.4"/>
<path d="M487.5 502.8L487.5 508.8M486.2 506.4L487.5 508.8L488.8 506.4"/>
<path d="M513.2 503.3L508.2 508.3M509.1 505.5L508.2 508.3L511.0 507.4"/>
<path d="M535.5 504.0L531.9 507.6M532.7 505.2L531.9 507.6L534.3 506.8"/>
<path d="M554.7 504.8L559.3 506.8M556.8 507.0L559.3 506.8L557.7 504.8"/>
<path d="M579.6 502.8L579.6 508.8M578.3 506.4L579.6 508.8L580.9 506.4"/>
<path d="M602.6 503.3L602.6 508.3M601.4 506.1L602.6 508.3L603.8 506.1"/>
<path d="M625.9 502.8L625.9 508.8M624.6 506.4L625.9 508.8L627.2 506.4"/>
<path d="M648.1 504.7L650.3 506.9M648.3 506.2L650.3 506.9L649.6 504.9"/>
<path d="M675.0 504.7L669.4 506.9M671.1 504.9L669.4 506.9L672.1 507.2"/>
<path d="M156.5 525.4L152.5 525.4M154.5 524.3L152.5 525.4L154.5 526.4"/>
<path d="M179.5 525.4L174.5 525.4M176.7 524.2L174.5 525.4L176.7 526.5"/>
<path d="M205.1 523.2L194.9 527.5M197.3 524.6L194.9 527.5L198.6 527.8"/>
<path d="M227.7 527.3L218.5 523.4M222.0 523.1L218.5 523.4L220.7 526.1"/>
<path d="M250.3 525.4L242.3 525.4M245.0 523.9L242.3 525.4L245.0 526.8"/>
<path d="M269.2 523.9L269.2 526.9M268.3 525.0L269.2 526.9L270.2 525.0"/>
<path d="M293.7 525.4L290.7 525.4M292.6 524.4L290.7 525.4L292.6 526.3"/>
<path d="M315.4 526.9L315.4 523.9M316.4 525.7L315.4 523.9L314.4 525.7"/>
<path d="M338.5 526.9L338.5 523.9M339.5 525.7L338.5 523.9L337.5 525.7"/>
<path d="M365.5 525.4L357.5 525.4M360.2 523.9L357.5 525.4L360.2 526.8"/>
<path d="M386.7 523.2L382.5 527.5M383.3 524.9L382.5 527.5L385.1 526.7"/>
<path d="M407.8 522.4L407.8 528.4M406.5 526.0L407.8 528.4L409.1 526.0"/>
<path d="M430.8 519.9L430.8 530.9M429.0 527.6L430.8 530.9L432.5 527.6"/>
<path d="M452.0 521.2L455.4 529.5M452.9 527.4L455.4 529.5L455.7 526.2"/>
<path d="M475.0 520.7L478.8 530.0M476.1 527.7L478.8 530.0L479.1 526.5"/>
<path d="M502.8 522.5L497.2 528.2M498.1 525.2L497.2 528.2L500.1 527.3"/>
<path d="M525.4 523.2L521.2 527.5M522.0 524.9L521.2 527.5L523.8 526.7"/>
<path d="M548.4 523.2L544.2 527.5M545.0 524.9L544.2 527.5L546.8 526.7"/>
<path d="M568.0 523.9L570.8 526.8M568.6 526.1L570.8 526.8L570.1 524.6"/>
<path d="M590.8 523.6L594.4 527.1M592.0 526.4L594.4 527.1L593.6 524.7"/>
<path d="M615.9 523.9L615.9 526.9M614.9 525.0L615.9 526.9L616.9 525.0"/>
<path d="M639.0 523.4L639.0 527.4M637.9 525.3L639.0 527.4L640.1 525.3"/>
<path d="M663.3 523.6L659.7 527.1M660.5 524.7L659.7 527.1L662.1 526.4"/>
<path d="M168.0 544.9L162.0 544.9M164.4 543.6L162.0 544.9L164.4 546.2"/>
<path d="M192.2 546.6L183.8 543.2M187.1 542.9L183.8 543.2L185.9 545.7"/>
<path d="M215.2 546.6L206.8 543.2M210.1 542.9L206.8 543.2L208.9 545.7"/>
<path d="M238.0 544.9L230.0 544.9M232.7 543.4L230.0 544.9L232.7 546.4"/>
<path d="M259.5 544.9L254.5 544.9M256.7 543.7L254.5 544.9L256.7 546.1"/>
<path d="M280.0 546.9L280.0 542.9M281.1 544.9L280.0 542.9L278.9 544.9"/>
<path d="M301.6 543.5L304.4 546.3M302.2 545.6L304.4 546.3L303.7 544.1"/>
<path d="M324.6 543.5L327.4 546.3M325.2 545.6L327.4 546.3L326.7 544.1"/>
<path d="M351.8 544.9L346.8 544.9M349.0 543.7L346.8 544.9L349.0 546.1"/>
<path d="M373.3 546.0L371.2 543.8M373.2 544.5L371.2 543.8L371.8 545.8"/>
<path d="M398.0 542.1L392.4 547.7M393.3 544.8L392.4 547.7L395.3 546.8"/>
<path d="M417.7 539.9L417.7 549.9M416.1 546.8L417.7 549.9L419.3 546.8"/>
<path d="M441.6 539.9L441.6 549.9M440.0 546.8L441.6 549.9L443.2 546.8"/>
<path d="M462.8 540.7L466.2 549.1M463.7 547.0L466.2 549.1L466.5 545.8"/>
<path d="M491.2 543.4L483.8 546.4M485.8 544.0L483.8 546.4L486.9 546.7"/>
<path d="M511.8 542.1L509.6 547.7M509.3 545.0L509.6 547.7L511.6 546.0"/>
<path d="M536.2 542.4L531.2 547.4M532.1 544.6L531.2 547.4L534.0 546.5"/>
<path d="M558.1 542.1L555.9 547.7M555.6 545.0L555.9 547.7L557.9 546.0"/>
<path d="M579.2 542.1L581.4 547.7M579.4 546.0L581.4 547.7L581.7 545.0"/>
<path d="M603.3 542.9L603.3 546.9M602.2 544.9L603.3 546.9L604.4 544.9"/>
<path d="M625.9 541.9L625.9 547.9M624.6 545.5L625.9 547.9L627.2 545.5"/>
<path d="M649.2 542.9L649.2 546.9M648.1 544.9L649.2 546.9L650.3 544.9"/>
<path d="M675.0 543.8L669.4 546.0M671.1 544.0L669.4 546.0L672.1 546.3"/>
<path d="M156.5 564.5L152.5 564.5M154.5 563.4L152.5 564.5L154.5 565.5"/>
<path d="M180.7 566.0L173.3 562.9M176.4 562.6L173.3 562.9L175.3 565.3"/>
<path d="M204.5 564.5L195.5 564.5M198.4 562.9L195.5 564.5L198.4 566.0"/>
<path d="M228.1 564.5L218.1 564.5M221.2 562.8L218.1 564.5L221.2 566.1"/>
<path d="M249.5 565.8L243.1 563.1M246.0 562.8L243.1 563.1L244.9 565.3"/>
<path d="M271.0 568.6L267.5 560.3M270.1 562.4L267.5 560.3L267.2 563.6"/>
<path d="M288.7 568.0L295.7 560.9M294.7 564.3L295.7 560.9L292.4 561.9"/>
<path d="M314.0 563.0L316.8 565.9M314.6 565.2L316.8 565.9L316.1 563.7"/>
<path d="M340.0 560.8L337.0 568.1M336.7 565.1L337.0 568.1L339.4 566.2"/>
<path d="M363.5 564.5L359.5 564.5M361.5 563.4L359.5 564.5L361.5 565.5"/>
<path d="M385.9 561.2L383.3 567.7M383.0 564.8L383.3 567.7L385.5 565.8"/>
<path d="M411.0 561.3L404.6 567.6M405.6 564.5L404.6 567.6L407.8 566.7"/>
<path d="M430.8 558.5L430.8 570.5M428.9 567.0L430.8 570.5L432.6 567.0"/>
<path d="M451.8 559.8L455.6 569.1M452.9 566.8L455.6 569.1L455.9 565.6"/>
<path d="M476.9 561.0L476.9 568.0M475.5 565.4L476.9 568.0L478.3 565.4"/>
<path d="M501.7 560.3L498.3 568.6M498.0 565.3L498.3 568.6L500.8 566.5"/>
<path d="M523.3 561.5L523.3 567.5M522.0 565.1L523.3 567.5L524.6 565.1"/>
<path d="M547.4 561.7L545.2 567.2M544.9 564.5L545.2 567.2L547.2 565.5"/>
<path d="M571.0 562.3L566.8 566.6M567.6 564.0L566.8 566.6L569.4 565.8"/>
<path d="M592.6 563.0L592.6 566.0M591.6 564.1L592.6 566.0L593.6 564.1"/>
<path d="M614.8 561.7L617.0 567.2M615.0 565.5L617.0 567.2L617.3 564.5"/>
<path d="M637.6 563.0L640.4 565.9M638.2 565.2L640.4 565.9L639.7 563.7"/>
<path d="M661.5 563.0L661.5 566.0M660.5 564.1L661.5 566.0L662.5 564.1"/>
<path d="M168.0 584.0L162.0 584.0M164.4 582.7L162.0 584.0L164.4 585.3"/>
<path d="M194.0 584.0L182.0 584.0M185.4 582.2L182.0 584.0L185.4 585.8"/>
<path d="M215.6 582.1L206.4 585.9M208.6 583.2L206.4 585.9L209.9 586.2"/>
<path d="M238.6 582.1L229.4 585.9M231.6 583.2L229.4 585.9L232.9 586.2"/>
<path d="M261.5 584.0L252.5 584.0M255.4 582.5L252.5 584.0L255.4 585.5"/>
<path d="M282.5 586.5L277.5 581.5M280.3 582.4L277.5 581.5L278.4 584.3"/>
<path d="M300.5 586.5L305.5 581.5M304.6 584.3L305.5 581.5L302.7 582.4"/>
<path d="M321.4 585.9L330.6 582.1M328.4 584.8L330.6 582.1L327.1 581.8"/>
<path d="M347.5 582.2L351.1 585.8M348.7 585.0L351.1 585.8L350.3 583.4"/>
<path d="M371.1 581.2L373.4 586.8M371.3 585.1L373.4 586.8L373.7 584.1"/>
<path d="M393.7 580.3L396.7 587.7M394.3 585.7L396.7 587.7L397.0 584.6"/>
<path d="M419.8 578.9L415.6 589.1M415.2 585.4L415.6 589.1L418.5 586.7"/>
<path d="M441.6 578.0L441.6 590.0M439.8 586.6L441.6 590.0L443.4 586.6"/>
<path d="M464.5 579.5L464.5 588.5M463.0 585.6L464.5 588.5L466.0 585.6"/>
<path d="M490.0 581.5L485.0 586.5M485.9 583.7L485.0 586.5L487.8 585.6"/>
<path d="M512.8 581.9L508.6 586.1M509.4 583.5L508.6 586.1L511.2 585.3"/>
<path d="M533.7 581.0L533.7 587.0M532.4 584.6L533.7 587.0L535.0 584.6"/>
<path d="M558.5 580.3L555.5 587.7M555.2 584.6L555.5 587.7L557.9 585.7"/>
<path d="M580.3 580.5L580.3 587.5M578.9 584.9L580.3 587.5L581.7 584.9"/>
<path d="M603.3 580.5L603.3 587.5M601.9 584.9L603.3 587.5L604.7 584.9"/>
<path d="M625.9 580.5L625.9 587.5M624.5 584.9L625.9 587.5L627.3 584.9"/>
<path d="M647.8 582.6L650.6 585.4M648.4 584.7L650.6 585.4L649.9 583.2"/>
<path d="M672.2 582.0L672.2 586.0M671.1 584.0L672.2 586.0L673.3 584.0"/>
<path d="M156.5 603.6L152.5 603.6M154.5 602.5L152.5 603.6L154.5 604.6"/>
<path d="M179.5 603.6L174.5 603.6M176.7 602.4L174.5 603.6L176.7 604.7"/>
<path d="M202.5 603.6L197.5 603.6M199.7 602.4L197.5 603.6L199.7 604.7"/>
<path d="M226.0 603.6L220.0 603.6M222.4 602.3L220.0 603.6L222.4 604.8"/>
<path d="M248.5 603.6L243.5 603.6M245.7 602.4L243.5 603.6L245.7 604.7"/>
<path d="M271.0 603.6L267.0 603.6M269.0 602.5L267.0 603.6L269.0 604.6"/>
<path d="M293.8 605.3L290.2 601.8M292.6 602.5L290.2 601.8L291.0 604.2"/>
<path d="M315.0 609.6L315.0 597.6M316.8 601.0L315.0 597.6L313.2 601.0"/>
<path d="M335.4 610.9L341.6 596.2M342.0 600.8L341.6 596.2L337.9 599.1"/>
<path d="M358.7 606.4L364.3 600.7M363.4 603.7L364.3 600.7L361.4 601.6"/>
<path d="M384.6 601.6L384.6 605.6M383.5 603.5L384.6 605.6L385.7 603.5"/>
<path d="M407.8 601.6L407.8 605.6M406.7 603.5L407.8 605.6L408.9 603.5"/>
<path d="M430.8 601.6L430.8 605.6M429.7 603.5L430.8 605.6L431.8 603.5"/>
<path d="M453.7 605.6L453.7 601.6M454.8 603.6L453.7 601.6L452.6 603.6"/>
<path d="M476.9 605.6L476.9 601.6M478.0 603.6L476.9 601.6L475.8 603.6"/>
<path d="M500.0 606.1L500.0 601.1M501.2 603.3L500.0 601.1L498.8 603.3"/>
<path d="M523.0 601.6L523.0 605.6M521.9 603.5L523.0 605.6L524.1 603.5"/>
<path d="M546.0 601.6L546.0 605.6M544.9 603.5L546.0 605.6L547.1 603.5"/>
<path d="M569.0 601.6L569.0 605.6M567.9 603.5L569.0 605.6L570.1 603.5"/>
<path d="M592.0 601.6L592.0 605.6M590.9 603.5L592.0 605.6L593.1 603.5"/>
<path d="M615.0 601.6L615.0 605.6M613.9 603.5L615.0 605.6L616.1 603.5"/>
<path d="M639.0 601.6L639.0 605.6M637.9 603.5L639.0 605.6L640.1 603.5"/>
<path d="M661.0 601.6L661.0 605.6M659.9 603.5L661.0 605.6L662.1 603.5"/>
<path d="M684.0 601.6L684.0 605.6M682.9 603.5L684.0 605.6L685.1 603.5"/>
</g>
<g clip-path="url(#mc)" stroke="#000" stroke-width="1.15" fill="none" stroke-linejoin="round">
<polyline points="185.0,73.0 180.0,167.5"/>
<polyline points="154.0,166.6 200.0,168.8 250.0,170.6 310.0,172.3 400.0,173.4 460.0,173.4 520.0,172.3 571.0,171.0"/>
<polyline points="569.0,73.0 571.0,171.0 572.6,204.0 584.0,275.5 583.8,391.0"/>
<polyline points="572.6,204.0 620.0,202.2 684.0,199.3"/>
<polyline points="154.0,199.4 286.9,203.8 284.0,331.0"/>
<polyline points="283.8,331.2 289.8,331.2 292.0,333.5 295.0,339.5 297.2,341.8 300.2,344.0 305.5,345.2 307.8,342.5 311.5,343.2 315.2,345.5 316.8,343.2 317.5,340.2 319.8,340.2 324.2,344.0 326.5,347.0 327.2,351.5 329.5,355.2 333.2,356.8 338.5,356.0 343.0,358.2 347.5,360.5 353.5,361.2 358.8,359.8 362.5,362.8 366.2,365.8 370.0,363.5 372.2,360.8 377.5,361.7 383.5,362.3 386.5,360.8 387.2,365.0 388.0,368.0 391.0,370.2 393.2,371.8 394.0,376.2 396.2,378.5 400.0,380.6 403.8,378.1 405.0,374.4 410.0,371.9 414.4,373.1 415.0,376.9 420.0,377.5 421.9,379.4 423.8,381.9 426.9,381.2 428.8,379.4 432.5,378.1 435.0,376.2 436.9,378.1 438.1,382.5 438.1,386.9 440.0,389.4 441.9,387.5 442.5,381.9 444.4,380.0 446.2,378.1 447.5,373.8 450.0,373.1 452.5,375.6 453.1,379.4 455.0,380.0 456.2,378.1 458.1,380.0 458.8,382.5 460.6,383.8 462.5,381.2 462.5,376.9 466.2,376.2 468.8,377.5 471.2,375.6 470.6,372.5 468.8,371.2 465.0,367.5 470.0,365.0 473.1,366.2 471.2,370.0 469.4,375.0 471.2,381.2 473.8,383.1 477.5,385.0 481.2,386.2 483.8,390.0 486.2,388.8 487.5,385.6 491.2,384.4 492.4,381.8 494.9,380.2 499.8,380.2 503.0,379.4 504.6,377.8 509.5,380.2 514.4,377.8 519.2,376.1 524.1,374.2 526.6,376.1 530.6,377.0 532.2,378.2 538.8,377.8 542.0,376.1 542.8,371.6 546.0,372.5 550.1,374.5 553.4,376.9 558.2,379.4 561.5,383.4 566.4,385.9 571.2,386.7 574.5,389.1 578.6,390.0 582.6,391.6 585.9,392.4 588.3,394.8 589.9,397.6 594.0,396.9 597.2,396.4 601.3,395.3 607.8,396.4"/>
<polyline points="607.8,396.4 609.0,410.0 609.6,432.5 611.6,497.9 615.1,500.7 620.2,505.0 621.6,508.6 625.2,512.2 625.9,516.6 625.6,523.7 626.6,528.8 631.0,530.2 630.2,532.4 633.1,534.5 634.5,538.1 634.5,542.4 637.4,545.3 639.6,548.2 640.3,552.5 642.4,552.5 642.4,556.1 644.3,561.1 641.7,564.0 643.4,568.3 642.4,575.5 640.3,579.8 638.1,584.1 636.0,588.4 633.8,594.1 635.7,598.4 634.8,603.5"/>
<polyline points="609.6,432.5 684.0,429.4"/>
</g>
<g clip-path="url(#mc)" stroke="#000" stroke-width="2" fill="none" stroke-linejoin="round" stroke-linecap="round">
<polyline points="447.5,373.5 450.5,372.8 452.0,375.0 452.5,379.0 455.0,380.5 458.0,383.0 460.0,384.0 462.5,382.0 464.0,379.0 467.0,377.0 469.5,375.5 471.0,380.0 473.0,382.5 475.0,385.0 480.0,385.5"/>
<polyline points="449.0,375.0 451.5,381.0 454.5,382.0 457.5,384.5 460.0,385.0 463.0,383.5 466.0,380.0 469.0,378.5"/>
<polyline points="464.5,367.0 468.0,370.5 470.5,372.0"/>
<polyline points="468.5,365.0 471.0,364.0 473.5,366.0 471.0,369.5 468.5,365.0"/>
<polyline points="470.5,369.0 470.0,376.0 471.0,381.0"/>
</g>
<g stroke="#000" stroke-width="1.4">
<line x1="187.0" y1="72.5" x2="187.0" y2="86"/>
<line x1="290.0" y1="72.5" x2="290.0" y2="86"/>
<line x1="393.4" y1="72.5" x2="393.4" y2="86"/>
<line x1="496.6" y1="72.5" x2="496.6" y2="86"/>
<line x1="600.0" y1="72.5" x2="600.0" y2="86"/>
<line x1="162.8" y1="589" x2="162.8" y2="603.3"/>
<line x1="276.5" y1="589" x2="276.5" y2="603.3"/>
<line x1="391.0" y1="589" x2="391.0" y2="603.3"/>
<line x1="504.7" y1="589" x2="504.7" y2="603.3"/>
<line x1="618.4" y1="589" x2="618.4" y2="603.3"/>
<line x1="153.7" y1="100.4" x2="168" y2="100.4"/>
<line x1="670" y1="100.4" x2="684.5" y2="100.4"/>
<line x1="153.7" y1="232.5" x2="168" y2="232.5"/>
<line x1="670" y1="232.5" x2="684.5" y2="232.5"/>
<line x1="153.7" y1="364.0" x2="168" y2="364.0"/>
<line x1="670" y1="364.0" x2="684.5" y2="364.0"/>
<line x1="153.7" y1="496.6" x2="168" y2="496.6"/>
<line x1="670" y1="496.6" x2="684.5" y2="496.6"/>
</g>
<polygon points="422.50,287.60 420.96,291.58 416.70,291.81 420.01,294.51 418.91,298.64 422.50,296.32 426.09,298.64 424.99,294.51 428.30,291.81 424.04,291.58" fill="none" stroke="#000" stroke-width="1.15"/>
<polygon points="458.30,445.75 456.80,449.63 452.64,449.86 455.87,452.49 454.80,456.51 458.30,454.26 461.80,456.51 460.73,452.49 463.96,449.86 459.80,449.63" fill="none" stroke="#000" stroke-width="1.15"/>
<rect x="153.70" y="72.50" width="530.80" height="530.80" fill="none" stroke="#000" stroke-width="1.3"/>
<rect x="658.3" y="72.5" width="29" height="38.6" fill="#fff" stroke="#555" stroke-width="1"/>
<text transform="translate(672.60 86.90) scale(1.050 1.050)" font-size="15.2" text-anchor="middle">8</text>
<g stroke="#444" stroke-width="0.9" fill="none"><line x1="661.4" y1="97.5" x2="680.3" y2="97.5" stroke="#666"/><path d="M678.6 95.1Q680.6 96 683.6 97.5Q680.6 99 678.6 99.9"/><circle cx="681.6" cy="97.5" r="1" stroke="#222"/><circle cx="683.4" cy="97.5" r="0.5" fill="#222" stroke="none"/></g>
<text x="316.8" y="26.6" font-size="14.4" font-weight="bold">2023/6/4/11UTC (5LT), Sunday</text>
<text x="316.8" y="42.2" font-size="14.1" font-weight="bold">FV3M0B2L1_GFS025</text>
<text x="152.5" y="63.7" font-size="24.25">instantaneous surface downward shortwave flux</text>
<text x="685" y="63.7" font-size="24" text-anchor="end">W/m**2</text>
<text transform="translate(145.80 237.80) scale(1.010 1.040)" font-size="14.8" text-anchor="end">36°N</text>
<text transform="translate(145.80 501.70) scale(1.010 1.040)" font-size="14.8" text-anchor="end">32°N</text>
<text transform="translate(163.20 624.50) scale(1.000 1.090)" font-size="14.6" text-anchor="middle">102°W</text>
<text transform="translate(390.90 624.50) scale(1.030 1.090)" font-size="14.6" text-anchor="middle">98°W</text>
<text transform="translate(618.50 624.50) scale(1.030 1.090)" font-size="14.6" text-anchor="middle">94°W</text>
<text x="282.1" y="619.2" font-size="14.5" text-anchor="middle">Min= 0 Max= 7.73</text>
<rect x="162.00" y="627.50" width="32.19" height="14.30" fill="#0000ff"/>
<rect x="194.19" y="627.50" width="32.19" height="14.30" fill="#0064ff"/>
<rect x="226.38" y="627.50" width="32.19" height="14.30" fill="#00c8ff"/>
<rect x="258.56" y="627.50" width="32.19" height="14.30" fill="#00f0d2"/>
<rect x="290.75" y="627.50" width="32.19" height="14.30" fill="#00d26e"/>
<rect x="322.94" y="627.50" width="32.19" height="14.30" fill="#00b414"/>
<rect x="355.12" y="627.50" width="32.19" height="14.30" fill="#64d200"/>
<rect x="387.31" y="627.50" width="32.19" height="14.30" fill="#d2f000"/>
<rect x="419.50" y="627.50" width="32.19" height="14.30" fill="#fff000"/>
<rect x="451.69" y="627.50" width="32.19" height="14.30" fill="#ffc800"/>
<rect x="483.88" y="627.50" width="32.19" height="14.30" fill="#ffa000"/>
<rect x="516.06" y="627.50" width="32.19" height="14.30" fill="#ff6400"/>
<rect x="548.25" y="627.50" width="32.19" height="14.30" fill="#ff1e00"/>
<rect x="580.44" y="627.50" width="32.19" height="14.30" fill="#e1001e"/>
<rect x="612.62" y="627.50" width="32.19" height="14.30" fill="#a00050"/>
<rect x="644.81" y="627.50" width="32.19" height="14.30" fill="#5a008c"/>
<g stroke="#000" stroke-width="0.8" fill="none">
<line x1="194.19" y1="627.50" x2="194.19" y2="641.80"/>
<line x1="226.38" y1="627.50" x2="226.38" y2="641.80"/>
<line x1="258.56" y1="627.50" x2="258.56" y2="641.80"/>
<line x1="290.75" y1="627.50" x2="290.75" y2="641.80"/>
<line x1="322.94" y1="627.50" x2="322.94" y2="641.80"/>
<line x1="355.12" y1="627.50" x2="355.12" y2="641.80"/>
<line x1="387.31" y1="627.50" x2="387.31" y2="641.80"/>
<line x1="419.50" y1="627.50" x2="419.50" y2="641.80"/>
<line x1="451.69" y1="627.50" x2="451.69" y2="641.80"/>
<line x1="483.88" y1="627.50" x2="483.88" y2="641.80"/>
<line x1="516.06" y1="627.50" x2="516.06" y2="641.80"/>
<line x1="548.25" y1="627.50" x2="548.25" y2="641.80"/>
<line x1="580.44" y1="627.50" x2="580.44" y2="641.80"/>
<line x1="612.62" y1="627.50" x2="612.62" y2="641.80"/>
<line x1="644.81" y1="627.50" x2="644.81" y2="641.80"/>
</g>
<rect x="162.00" y="627.50" width="515.00" height="14.30" fill="none" stroke="#3a3a30" stroke-width="0.7"/>
<text transform="translate(194.19 656.40) scale(1.040 1.050)" font-size="14" text-anchor="middle">0.5</text>
<text transform="translate(258.56 656.40) scale(1.040 1.050)" font-size="14" text-anchor="middle">1.5</text>
<text transform="translate(322.94 656.40) scale(1.040 1.050)" font-size="14" text-anchor="middle">2.5</text>
<text transform="translate(387.31 656.40) scale(1.040 1.050)" font-size="14" text-anchor="middle">3.5</text>
<text transform="translate(451.69 656.40) scale(1.040 1.050)" font-size="14" text-anchor="middle">4.5</text>
<text transform="translate(516.06 656.40) scale(1.040 1.050)" font-size="14" text-anchor="middle">5.5</text>
<text transform="translate(580.44 656.40) scale(1.040 1.050)" font-size="14" text-anchor="middle">6.5</text>
<text transform="translate(644.81 656.40) scale(1.040 1.050)" font-size="14" text-anchor="middle">7.5</text>
</svg></body></html>
